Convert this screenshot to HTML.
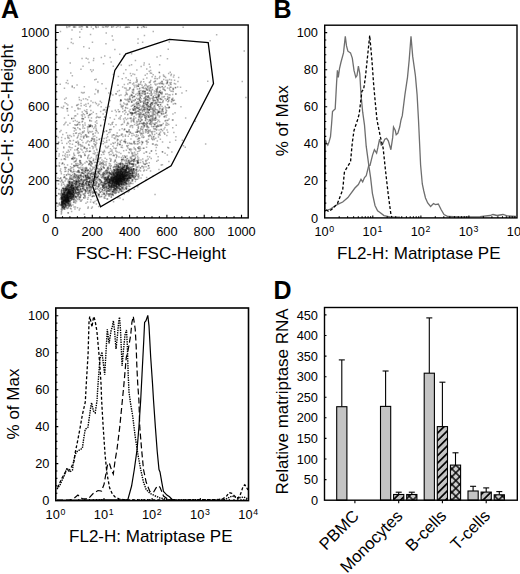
<!DOCTYPE html><html><head><meta charset="utf-8"><style>
html,body{margin:0;padding:0;background:#fff;}svg{display:block;}
text{font-family:"Liberation Sans", sans-serif;fill:#000;}
.t{font-size:12.8px;}.lab{font-size:17px;}.pl{font-size:25px;font-weight:bold;fill:#000;}
</style></head><body>
<svg width="520" height="574" viewBox="0 0 520 574">
<text class="pl" x="1" y="18">A</text>
<text class="pl" x="273.4" y="18">B</text>
<text class="pl" x="0.1" y="298.7">C</text>
<text class="pl" x="273.4" y="298.7">D</text>
<path d="M65.6 193.9h1.5M71.4 183.1h1.5M59.8 198.9h1.5M65.9 186.1h1.5M63.5 189.8h1.5M79.7 189.5h1.5M64.8 196.1h1.5M69.8 186.6h1.5M60.9 200.8h1.5M81.5 184.7h1.5M63.2 199.6h1.5M74.2 186.8h1.5M70.2 191.3h1.5M68.9 202.5h1.5M70.7 195.0h1.5M69.8 193.0h1.5M58.0 194.1h1.5M69.9 196.5h1.5M67.5 205.1h1.5M70.5 192.0h1.5M67.1 189.2h1.5M64.7 197.9h1.5M65.7 186.7h1.5M67.3 189.9h1.5M71.2 188.7h1.5M76.1 196.8h1.5M71.9 192.3h1.5M67.8 184.6h1.5M68.9 194.7h1.5M67.4 191.0h1.5M71.3 189.7h1.5M68.7 197.6h1.5M71.5 185.8h1.5M70.0 187.1h1.5M60.5 211.6h1.5M69.8 192.4h1.5M72.1 188.8h1.5M71.6 182.9h1.5M67.6 191.9h1.5M67.8 182.0h1.5M66.2 194.9h1.5M64.1 207.0h1.5M65.3 189.9h1.5M61.9 201.9h1.5M72.8 191.6h1.5M64.8 205.2h1.5M68.5 192.6h1.5M69.7 194.3h1.5M72.2 188.4h1.5M62.6 205.2h1.5M62.7 190.9h1.5M59.0 202.9h1.5M62.6 182.5h1.5M70.5 191.9h1.5M67.4 193.1h1.5M71.8 185.6h1.5M69.7 192.1h1.5M77.3 185.8h1.5M66.4 196.1h1.5M59.3 199.1h1.5M62.4 198.4h1.5M67.1 196.1h1.5M73.0 188.1h1.5M72.3 190.6h1.5M78.5 185.8h1.5M70.2 182.5h1.5M71.1 193.4h1.5M68.5 202.9h1.5M68.3 197.2h1.5M69.9 195.1h1.5M67.3 198.0h1.5M65.8 201.7h1.5M69.3 196.9h1.5M64.0 196.4h1.5M63.5 203.2h1.5M63.2 200.6h1.5M69.4 197.9h1.5M61.3 199.1h1.5M66.9 197.8h1.5M62.7 207.1h1.5M63.6 197.9h1.5M64.4 190.4h1.5M67.3 200.7h1.5M62.8 194.3h1.5M67.4 197.7h1.5M68.4 193.3h1.5M66.9 199.6h1.5M61.0 203.7h1.5M70.0 204.8h1.5M61.7 205.8h1.5M65.6 193.1h1.5M64.0 199.3h1.5M68.2 194.9h1.5M64.3 201.3h1.5M61.1 202.3h1.5M64.1 196.9h1.5M102.5 172.8h1.5M82.1 184.8h1.5M80.3 175.0h1.5M65.6 175.0h1.5M77.2 170.8h1.5M94.4 173.7h1.5M79.3 164.5h1.5M96.2 183.4h1.5M114.6 161.2h1.5M88.5 173.3h1.5M126.2 156.1h1.5M93.3 174.1h1.5M101.9 174.8h1.5M105.5 178.8h1.5M84.3 175.6h1.5M92.8 159.1h1.5M80.2 189.8h1.5M70.6 183.0h1.5M85.0 170.4h1.5M72.9 169.6h1.5M105.7 178.1h1.5M90.6 180.0h1.5M75.9 181.9h1.5M77.2 181.9h1.5M88.2 184.7h1.5M62.5 196.4h1.5M95.3 181.8h1.5M76.6 187.2h1.5M84.3 174.5h1.5M88.7 178.0h1.5M86.7 201.9h1.5M99.9 171.7h1.5M62.7 190.8h1.5M67.0 188.7h1.5M79.0 183.7h1.5M83.5 189.5h1.5M92.6 174.4h1.5M78.9 183.8h1.5M86.2 179.5h1.5M89.3 189.4h1.5M90.3 186.9h1.5M76.6 172.2h1.5M68.5 181.7h1.5M101.9 164.0h1.5M96.0 182.1h1.5M114.3 164.2h1.5M94.7 178.0h1.5M91.3 163.3h1.5M118.2 156.9h1.5M84.9 176.7h1.5M113.7 177.9h1.5M61.7 200.0h1.5M85.9 181.4h1.5M88.8 173.0h1.5M86.8 185.5h1.5M60.0 177.8h1.5M102.9 160.9h1.5M88.1 186.5h1.5M80.1 195.4h1.5M69.5 186.3h1.5M68.2 184.8h1.5M66.7 185.2h1.5M100.5 174.8h1.5M63.9 167.6h1.5M81.0 186.1h1.5M87.1 170.0h1.5M76.4 177.6h1.5M73.1 183.6h1.5M73.1 165.8h1.5M100.0 171.3h1.5M80.0 189.6h1.5M79.4 197.3h1.5M124.2 180.6h1.5M69.1 192.0h1.5M77.1 192.5h1.5M83.6 214.2h1.5M92.5 202.3h1.5M94.4 184.7h1.5M81.0 169.5h1.5M102.1 161.9h1.5M77.9 181.4h1.5M80.5 201.0h1.5M95.2 178.9h1.5M86.2 113.6h1.5M77.0 136.9h1.5M73.9 116.0h1.5M95.3 128.3h1.5M104.1 116.7h1.5M102.9 177.5h1.5M71.7 144.2h1.5M85.6 161.5h1.5M103.6 150.5h1.5M100.6 163.3h1.5M86.1 151.0h1.5M105.3 88.5h1.5M83.8 154.1h1.5M92.7 168.0h1.5M73.1 118.3h1.5M76.8 124.7h1.5M74.2 128.4h1.5M88.4 126.9h1.5M80.5 100.6h1.5M106.9 136.7h1.5M75.2 129.9h1.5M83.0 138.0h1.5M86.5 151.0h1.5M70.9 178.9h1.5M58.7 166.2h1.5M77.4 171.9h1.5M73.5 87.8h1.5M84.2 162.9h1.5M97.3 117.2h1.5M88.2 155.1h1.5M71.4 188.3h1.5M74.2 110.7h1.5M108.8 154.7h1.5M96.3 116.5h1.5M68.4 138.2h1.5M62.0 163.3h1.5M87.0 128.9h1.5M78.8 152.2h1.5M96.2 123.2h1.5M88.9 131.6h1.5M79.2 108.8h1.5M88.3 164.8h1.5M130.7 174.9h1.5M108.3 173.6h1.5M117.8 179.5h1.5M135.5 170.6h1.5M105.6 177.8h1.5M114.7 159.9h1.5M115.5 185.9h1.5M94.9 189.3h1.5M119.1 170.0h1.5M127.0 179.3h1.5M109.2 186.8h1.5M123.3 175.2h1.5M131.4 175.3h1.5M110.5 188.4h1.5M129.2 178.5h1.5M115.8 179.8h1.5M112.4 185.4h1.5M124.7 172.1h1.5M121.1 179.9h1.5M130.6 175.3h1.5M110.8 176.9h1.5M119.4 168.2h1.5M111.3 191.8h1.5M112.9 174.5h1.5M132.8 166.1h1.5M112.5 167.6h1.5M116.9 187.1h1.5M115.8 181.3h1.5M104.6 183.4h1.5M115.4 176.4h1.5M117.2 172.3h1.5M116.0 185.2h1.5M114.0 171.1h1.5M127.2 165.7h1.5M112.9 182.5h1.5M112.3 181.4h1.5M105.8 178.0h1.5M144.5 164.2h1.5M116.5 176.1h1.5M121.4 178.9h1.5M129.9 167.1h1.5M121.7 163.6h1.5M115.0 186.0h1.5M112.8 179.9h1.5M108.5 186.0h1.5M121.2 174.3h1.5M126.5 179.5h1.5M112.7 189.5h1.5M116.5 169.9h1.5M112.9 173.5h1.5M120.8 171.3h1.5M131.6 166.4h1.5M122.8 187.8h1.5M131.5 160.8h1.5M124.4 175.6h1.5M131.6 172.7h1.5M120.6 167.4h1.5M114.2 175.3h1.5M121.5 182.4h1.5M142.7 167.9h1.5M102.8 184.6h1.5M126.8 158.5h1.5M112.1 193.9h1.5M127.2 167.9h1.5M102.2 186.4h1.5M119.8 174.1h1.5M121.3 175.5h1.5M114.4 190.2h1.5M133.5 173.2h1.5M115.8 188.7h1.5M148.5 162.8h1.5M133.1 176.3h1.5M123.8 170.9h1.5M122.7 165.6h1.5M118.4 190.8h1.5M126.8 176.3h1.5M137.2 176.1h1.5M116.5 184.3h1.5M104.1 183.3h1.5M119.2 175.1h1.5M123.8 182.8h1.5M132.9 159.7h1.5M123.4 177.5h1.5M104.0 185.3h1.5M109.8 176.2h1.5M119.4 169.7h1.5M122.4 183.6h1.5M119.9 173.0h1.5M118.7 177.0h1.5M118.2 170.7h1.5M125.7 172.2h1.5M132.1 177.5h1.5M115.0 179.9h1.5M120.8 180.0h1.5M118.8 177.9h1.5M107.5 177.8h1.5M119.4 176.3h1.5M119.5 167.2h1.5M129.6 157.2h1.5M132.2 176.4h1.5M116.9 179.9h1.5M119.7 179.0h1.5M113.1 177.1h1.5M122.4 179.6h1.5M128.4 169.5h1.5M115.8 183.4h1.5M114.9 177.7h1.5M118.9 168.1h1.5M124.2 179.0h1.5M112.2 186.8h1.5M116.5 180.4h1.5M118.1 177.6h1.5M110.5 174.0h1.5M124.0 165.9h1.5M114.9 172.5h1.5M125.1 176.4h1.5M108.1 194.9h1.5M117.7 175.9h1.5M120.1 181.6h1.5M119.5 178.6h1.5M120.3 181.4h1.5M136.9 186.8h1.5M128.9 177.5h1.5M115.6 181.7h1.5M137.3 162.2h1.5M117.3 180.8h1.5M125.7 168.4h1.5M114.0 176.3h1.5M120.2 184.5h1.5M113.3 171.6h1.5M132.9 168.7h1.5M120.9 173.7h1.5M111.6 185.9h1.5M127.7 172.2h1.5M104.7 181.2h1.5M122.0 172.4h1.5M114.0 176.6h1.5M122.7 179.6h1.5M105.6 169.6h1.5M118.2 184.5h1.5M128.3 166.2h1.5M120.4 176.3h1.5M123.2 175.9h1.5M104.2 177.3h1.5M121.0 179.8h1.5M127.5 178.4h1.5M114.8 170.7h1.5M118.3 175.0h1.5M111.4 184.6h1.5M114.4 174.8h1.5M121.2 183.0h1.5M119.3 177.8h1.5M121.0 176.4h1.5M117.2 177.6h1.5M122.7 177.5h1.5M121.3 174.2h1.5M115.8 182.1h1.5M119.5 176.1h1.5M111.9 182.0h1.5M116.2 173.9h1.5M116.8 182.9h1.5M115.7 177.7h1.5M125.0 176.6h1.5M113.4 178.8h1.5M118.0 179.7h1.5M113.7 179.5h1.5M113.5 174.4h1.5M126.6 172.0h1.5M116.6 173.3h1.5M123.2 178.1h1.5M117.4 179.4h1.5M110.9 172.3h1.5M112.4 179.9h1.5M115.3 173.1h1.5M113.9 179.9h1.5M118.1 169.6h1.5M111.6 183.7h1.5M120.1 178.6h1.5M118.2 179.3h1.5M113.9 178.7h1.5M120.0 176.7h1.5M116.4 183.5h1.5M121.3 175.4h1.5M115.2 179.9h1.5M122.1 173.3h1.5M117.8 178.8h1.5M119.6 175.1h1.5M114.8 178.6h1.5M116.2 182.7h1.5M121.6 182.0h1.5M120.9 176.5h1.5M119.5 178.7h1.5M120.8 183.0h1.5M116.9 182.4h1.5M108.5 182.3h1.5M91.4 173.2h1.5M136.2 136.6h1.5M120.8 140.3h1.5M116.5 145.5h1.5M113.5 155.7h1.5M128.6 149.3h1.5M115.4 147.9h1.5M100.0 157.7h1.5M132.3 156.1h1.5M116.0 156.4h1.5M137.7 126.7h1.5M116.5 136.0h1.5M141.1 166.4h1.5M103.1 154.2h1.5M137.9 137.9h1.5M128.8 143.1h1.5M136.8 139.2h1.5M111.3 122.9h1.5M136.8 153.8h1.5M109.1 158.5h1.5M108.5 139.9h1.5M140.5 114.8h1.5M109.8 173.1h1.5M151.1 138.9h1.5M139.9 167.9h1.5M130.8 149.2h1.5M160.5 165.1h1.5M148.5 119.8h1.5M154.8 109.3h1.5M123.9 88.1h1.5M122.2 106.4h1.5M144.7 100.4h1.5M129.7 73.4h1.5M139.9 133.6h1.5M136.1 108.0h1.5M157.3 100.3h1.5M132.5 121.3h1.5M173.1 132.5h1.5M152.9 123.5h1.5M124.5 117.9h1.5M130.7 143.4h1.5M137.7 111.1h1.5M143.3 109.6h1.5M159.9 104.7h1.5M132.5 113.6h1.5M149.7 104.8h1.5M161.6 108.8h1.5M128.5 134.2h1.5M155.8 133.2h1.5M140.5 113.2h1.5M137.5 86.3h1.5M154.9 100.6h1.5M137.7 107.9h1.5M130.5 121.7h1.5M126.4 103.6h1.5M140.6 120.3h1.5M127.1 122.6h1.5M147.6 106.7h1.5M147.8 89.1h1.5M121.9 86.9h1.5M146.4 90.0h1.5M143.8 125.8h1.5M138.1 105.4h1.5M164.9 108.1h1.5M125.3 77.7h1.5M160.2 111.3h1.5M150.5 115.7h1.5M135.8 86.8h1.5M120.5 106.8h1.5M143.5 115.5h1.5M141.2 120.0h1.5M125.7 90.0h1.5M151.4 94.0h1.5M142.9 123.2h1.5M163.0 113.7h1.5M136.6 111.2h1.5M157.7 134.7h1.5M138.6 98.9h1.5M151.4 115.6h1.5M142.3 106.7h1.5M139.1 100.1h1.5M138.2 151.2h1.5M148.7 109.8h1.5M119.7 101.5h1.5M133.7 96.8h1.5M145.8 147.2h1.5M142.4 123.6h1.5M130.3 95.8h1.5M167.9 100.9h1.5M140.4 81.5h1.5M146.6 102.7h1.5M120.1 99.7h1.5M153.1 114.7h1.5M128.4 129.8h1.5M140.1 118.7h1.5M135.2 108.8h1.5M135.4 85.3h1.5M120.5 105.6h1.5M129.3 88.1h1.5M154.9 97.5h1.5M160.8 129.6h1.5M165.5 100.6h1.5M145.4 112.5h1.5M146.6 119.4h1.5M140.0 102.0h1.5M138.5 91.0h1.5M148.7 117.6h1.5M142.9 98.6h1.5M164.9 120.4h1.5M137.7 119.6h1.5M152.9 119.9h1.5M177.2 81.4h1.5M149.3 90.8h1.5M156.4 90.1h1.5M158.1 83.5h1.5M158.7 72.7h1.5M170.3 91.3h1.5M173.6 83.4h1.5M170.3 84.6h1.5M146.4 73.8h1.5M156.6 78.8h1.5M172.3 88.2h1.5M165.3 80.2h1.5M161.1 93.3h1.5M150.0 88.1h1.5M145.5 85.0h1.5M72.3 43.4h1.5M168.5 42.1h1.5M58.5 154.0h1.5M153.8 111.7h1.5M133.3 85.2h1.5M91.4 196.6h1.5M164.3 153.2h1.5M137.3 39.1h1.5M108.0 124.1h1.5M143.3 153.3h1.5M67.7 207.9h1.5M85.1 98.8h1.5M79.0 37.2h1.5M115.9 164.5h1.5M245.1 97.5h1.5M95.2 171.5h1.5M181.6 140.2h1.5M140.9 27.5h1.5M105.6 26.6h1.5M127.7 27.0h1.5M66.2 27.5h1.5M106.5 26.9h1.5" stroke="#000" stroke-width="1.5" stroke-opacity="0.3" fill="none"/><path d="M75.6 187.4h1.5M71.0 198.2h1.5M67.1 197.2h1.5M64.7 191.4h1.5M76.3 192.7h1.5M72.0 190.7h1.5M76.5 194.9h1.5M68.3 184.2h1.5M62.9 189.1h1.5M73.9 194.1h1.5M62.9 200.3h1.5M61.3 205.1h1.5M61.0 198.3h1.5M72.6 188.2h1.5M65.4 189.8h1.5M65.8 188.6h1.5M72.5 192.8h1.5M66.2 202.3h1.5M66.0 207.8h1.5M67.5 204.0h1.5M67.3 196.3h1.5M67.6 180.0h1.5M64.8 201.7h1.5M66.6 188.2h1.5M67.5 200.5h1.5M64.8 197.7h1.5M72.2 196.6h1.5M68.8 193.4h1.5M62.0 202.7h1.5M60.9 191.9h1.5M77.1 199.6h1.5M76.5 182.6h1.5M67.0 193.2h1.5M68.1 191.6h1.5M69.4 191.1h1.5M67.9 196.6h1.5M72.8 194.7h1.5M69.4 187.3h1.5M58.7 203.3h1.5M78.9 185.0h1.5M63.5 196.2h1.5M61.7 195.3h1.5M77.5 179.0h1.5M70.4 187.8h1.5M61.0 197.0h1.5M62.5 201.9h1.5M68.2 198.3h1.5M69.1 190.7h1.5M66.5 195.0h1.5M64.3 198.6h1.5M65.1 197.4h1.5M74.2 183.5h1.5M67.9 190.2h1.5M67.4 181.4h1.5M64.0 191.9h1.5M70.9 197.5h1.5M69.1 196.5h1.5M75.2 177.2h1.5M59.3 204.8h1.5M72.2 197.1h1.5M68.3 198.6h1.5M71.1 193.8h1.5M64.5 195.3h1.5M66.4 199.7h1.5M65.9 199.6h1.5M68.2 187.7h1.5M64.1 197.0h1.5M62.4 200.0h1.5M64.9 202.0h1.5M62.9 201.3h1.5M64.6 197.1h1.5M61.2 195.9h1.5M66.3 196.3h1.5M64.3 204.9h1.5M63.7 199.8h1.5M65.2 200.5h1.5M64.4 200.7h1.5M68.3 193.0h1.5M64.6 199.7h1.5M61.4 197.5h1.5M67.3 200.4h1.5M70.0 200.5h1.5M69.4 194.5h1.5M66.2 200.0h1.5M66.0 197.3h1.5M68.0 202.6h1.5M66.4 201.7h1.5M62.2 198.3h1.5M61.5 204.2h1.5M68.4 193.2h1.5M71.5 196.1h1.5M68.3 199.6h1.5M100.0 188.9h1.5M84.3 190.5h1.5M93.5 191.5h1.5M81.7 184.0h1.5M79.7 191.6h1.5M65.0 198.4h1.5M94.7 177.4h1.5M77.8 178.5h1.5M88.7 178.1h1.5M86.7 170.7h1.5M86.5 176.8h1.5M90.5 170.5h1.5M60.8 193.8h1.5M87.0 199.3h1.5M74.9 182.3h1.5M74.4 166.0h1.5M76.8 207.8h1.5M71.6 179.2h1.5M94.9 187.4h1.5M75.2 192.1h1.5M87.2 208.3h1.5M110.3 159.3h1.5M67.4 181.8h1.5M94.8 162.2h1.5M117.6 170.0h1.5M63.1 184.3h1.5M85.1 168.3h1.5M102.3 173.3h1.5M89.3 185.9h1.5M103.4 175.7h1.5M115.1 177.2h1.5M93.8 167.5h1.5M70.3 175.7h1.5M78.1 191.7h1.5M90.7 185.2h1.5M88.2 185.0h1.5M69.3 179.3h1.5M99.3 174.3h1.5M109.1 172.7h1.5M76.0 181.0h1.5M100.2 175.8h1.5M97.4 161.3h1.5M119.6 162.8h1.5M87.0 178.1h1.5M79.1 183.5h1.5M94.7 179.5h1.5M63.4 174.7h1.5M86.0 179.2h1.5M76.0 196.6h1.5M85.5 178.5h1.5M99.2 197.1h1.5M83.2 195.0h1.5M72.3 177.0h1.5M69.3 176.4h1.5M77.8 171.1h1.5M92.5 181.6h1.5M91.6 196.6h1.5M71.5 172.4h1.5M105.8 161.7h1.5M65.6 188.4h1.5M88.3 160.5h1.5M90.3 173.9h1.5M109.5 168.3h1.5M97.0 165.9h1.5M88.3 184.4h1.5M103.6 192.9h1.5M108.8 189.8h1.5M106.8 190.0h1.5M77.7 178.7h1.5M87.0 187.5h1.5M85.5 180.1h1.5M100.2 181.8h1.5M86.4 171.7h1.5M92.2 193.4h1.5M91.4 164.0h1.5M68.8 205.7h1.5M73.5 175.8h1.5M95.8 192.3h1.5M108.9 173.4h1.5M96.0 177.6h1.5M79.1 160.5h1.5M75.6 193.3h1.5M104.7 179.2h1.5M108.6 165.5h1.5M93.4 196.2h1.5M82.2 171.8h1.5M85.4 182.9h1.5M81.2 180.4h1.5M82.9 197.4h1.5M67.0 193.3h1.5M77.0 148.6h1.5M66.7 111.0h1.5M94.3 144.6h1.5M89.5 126.3h1.5M98.2 104.3h1.5M81.9 131.8h1.5M62.2 107.9h1.5M75.0 161.2h1.5M74.4 177.1h1.5M95.1 89.5h1.5M57.2 178.0h1.5M89.2 174.4h1.5M82.0 146.3h1.5M99.9 111.6h1.5M90.7 140.7h1.5M66.6 155.1h1.5M98.8 157.9h1.5M73.5 173.4h1.5M69.8 149.7h1.5M70.0 168.8h1.5M64.7 159.6h1.5M67.8 141.9h1.5M72.4 171.9h1.5M109.4 117.7h1.5M79.5 129.5h1.5M98.0 159.5h1.5M124.2 99.2h1.5M76.4 163.4h1.5M86.2 136.6h1.5M82.6 113.8h1.5M80.3 136.7h1.5M82.8 137.5h1.5M81.4 145.5h1.5M78.0 133.7h1.5M82.6 119.1h1.5M81.7 116.6h1.5M88.6 115.1h1.5M105.9 142.3h1.5M60.9 137.4h1.5M93.9 154.1h1.5M79.7 162.2h1.5M98.4 139.6h1.5M89.8 105.5h1.5M113.5 186.2h1.5M122.5 184.2h1.5M112.4 186.9h1.5M113.4 174.0h1.5M122.8 180.9h1.5M108.1 191.2h1.5M119.4 171.6h1.5M118.1 185.0h1.5M110.7 182.5h1.5M120.9 177.9h1.5M119.7 183.6h1.5M118.7 171.6h1.5M102.3 192.5h1.5M126.2 179.2h1.5M106.2 183.0h1.5M128.0 167.9h1.5M110.7 180.3h1.5M127.6 180.3h1.5M121.7 173.9h1.5M131.2 176.2h1.5M103.4 198.1h1.5M104.6 184.5h1.5M110.4 189.9h1.5M121.9 173.5h1.5M108.0 184.0h1.5M123.5 178.9h1.5M124.4 176.2h1.5M122.9 176.7h1.5M115.0 178.2h1.5M109.2 193.8h1.5M119.3 181.9h1.5M131.7 180.8h1.5M110.3 174.1h1.5M122.5 186.3h1.5M146.2 160.3h1.5M116.0 179.0h1.5M129.5 173.8h1.5M115.8 174.8h1.5M115.4 187.0h1.5M112.1 177.7h1.5M108.6 172.4h1.5M112.1 182.5h1.5M122.9 178.2h1.5M118.6 164.1h1.5M109.2 191.4h1.5M127.1 179.6h1.5M125.5 182.4h1.5M115.9 184.1h1.5M106.0 179.8h1.5M127.7 169.6h1.5M121.7 184.0h1.5M134.5 158.6h1.5M119.6 178.0h1.5M110.4 187.9h1.5M114.3 179.5h1.5M114.2 175.9h1.5M118.5 176.0h1.5M121.6 169.2h1.5M115.0 182.6h1.5M110.6 185.7h1.5M117.7 176.8h1.5M129.0 178.7h1.5M101.6 189.9h1.5M121.1 168.7h1.5M121.0 183.6h1.5M124.6 171.9h1.5M118.3 172.3h1.5M128.4 161.5h1.5M123.0 167.1h1.5M119.6 172.1h1.5M116.3 180.3h1.5M117.7 184.5h1.5M122.5 173.9h1.5M122.6 157.7h1.5M116.0 176.3h1.5M124.7 168.3h1.5M130.5 169.8h1.5M116.0 174.4h1.5M116.5 181.6h1.5M119.3 182.0h1.5M122.5 174.2h1.5M124.5 181.4h1.5M128.8 176.5h1.5M115.6 170.0h1.5M105.1 186.7h1.5M132.7 168.9h1.5M115.6 181.4h1.5M105.1 179.9h1.5M122.3 167.3h1.5M118.2 175.7h1.5M117.1 165.0h1.5M125.2 170.2h1.5M136.4 160.7h1.5M121.0 177.3h1.5M132.6 175.7h1.5M106.1 189.2h1.5M119.4 189.1h1.5M126.2 165.6h1.5M111.4 184.3h1.5M117.1 177.2h1.5M110.7 185.0h1.5M113.5 179.2h1.5M128.9 175.9h1.5M104.7 178.0h1.5M114.9 172.6h1.5M115.9 187.6h1.5M122.1 172.4h1.5M108.8 176.1h1.5M112.6 187.5h1.5M126.3 184.0h1.5M112.0 181.9h1.5M130.2 161.5h1.5M122.8 181.9h1.5M128.9 176.8h1.5M108.2 185.2h1.5M112.8 177.8h1.5M115.6 178.8h1.5M120.0 164.2h1.5M103.6 182.9h1.5M113.3 185.1h1.5M134.7 165.7h1.5M122.1 173.4h1.5M117.4 174.2h1.5M113.6 174.8h1.5M107.5 188.7h1.5M115.8 177.6h1.5M121.5 188.9h1.5M128.0 186.0h1.5M126.9 178.7h1.5M118.2 183.2h1.5M115.1 186.5h1.5M127.2 167.3h1.5M121.7 178.9h1.5M121.0 182.2h1.5M128.5 191.1h1.5M115.7 180.6h1.5M106.6 173.0h1.5M114.6 182.1h1.5M135.2 164.7h1.5M110.6 195.1h1.5M110.6 178.7h1.5M124.2 172.7h1.5M113.7 182.6h1.5M122.2 171.7h1.5M122.1 168.7h1.5M126.9 184.8h1.5M112.1 177.9h1.5M112.9 169.8h1.5M113.4 182.3h1.5M115.2 184.0h1.5M118.1 179.2h1.5M115.4 180.4h1.5M117.8 178.0h1.5M118.0 171.4h1.5M123.7 171.3h1.5M120.9 173.3h1.5M125.2 175.0h1.5M116.3 180.4h1.5M111.0 183.0h1.5M112.7 181.8h1.5M111.8 182.2h1.5M118.5 178.6h1.5M116.1 180.0h1.5M111.0 181.3h1.5M111.3 176.3h1.5M111.7 179.1h1.5M122.1 173.1h1.5M124.6 172.6h1.5M117.9 181.1h1.5M117.8 176.1h1.5M119.3 178.9h1.5M125.7 177.0h1.5M116.1 175.8h1.5M122.2 173.9h1.5M112.0 180.7h1.5M117.1 176.4h1.5M124.2 176.0h1.5M121.9 177.0h1.5M118.4 186.3h1.5M109.5 181.7h1.5M114.1 171.1h1.5M114.6 179.1h1.5M120.6 171.2h1.5M116.6 177.1h1.5M125.8 178.4h1.5M116.1 181.4h1.5M117.5 178.8h1.5M119.9 172.4h1.5M122.0 182.9h1.5M114.0 176.9h1.5M119.5 180.6h1.5M121.6 178.3h1.5M121.1 180.8h1.5M114.2 181.4h1.5M120.6 181.9h1.5M108.5 179.4h1.5M128.1 160.0h1.5M119.4 144.7h1.5M133.6 149.1h1.5M126.6 123.6h1.5M118.7 135.8h1.5M110.4 154.4h1.5M107.2 168.3h1.5M127.2 148.1h1.5M122.2 136.6h1.5M95.5 158.0h1.5M131.8 160.3h1.5M156.0 161.2h1.5M114.3 138.8h1.5M113.0 143.6h1.5M105.9 130.9h1.5M123.1 159.5h1.5M120.1 153.6h1.5M146.2 143.9h1.5M131.3 159.3h1.5M102.3 152.6h1.5M125.6 150.3h1.5M125.5 176.1h1.5M122.0 111.8h1.5M123.5 122.5h1.5M128.0 162.4h1.5M165.0 124.9h1.5M155.3 109.8h1.5M129.4 80.6h1.5M150.8 90.2h1.5M136.5 129.8h1.5M146.7 126.3h1.5M148.0 127.6h1.5M155.5 125.9h1.5M133.8 86.9h1.5M166.6 104.5h1.5M159.6 92.8h1.5M145.0 118.7h1.5M127.5 79.8h1.5M140.7 117.0h1.5M125.7 119.4h1.5M152.4 116.1h1.5M137.8 91.7h1.5M148.5 113.0h1.5M134.3 112.8h1.5M155.6 147.6h1.5M149.0 135.0h1.5M134.5 148.8h1.5M130.5 94.4h1.5M161.1 99.3h1.5M138.4 117.8h1.5M143.7 125.8h1.5M119.7 142.6h1.5M123.0 56.1h1.5M151.4 123.0h1.5M147.9 105.6h1.5M132.0 92.7h1.5M153.3 109.9h1.5M139.1 105.1h1.5M134.7 110.0h1.5M156.0 98.7h1.5M144.1 116.0h1.5M154.6 129.1h1.5M160.8 113.5h1.5M133.0 141.4h1.5M146.9 96.9h1.5M129.7 82.8h1.5M150.3 95.2h1.5M126.6 94.6h1.5M118.1 111.7h1.5M138.4 93.3h1.5M141.3 85.3h1.5M141.2 96.1h1.5M142.8 102.7h1.5M151.3 133.2h1.5M148.9 101.1h1.5M166.7 123.4h1.5M149.6 107.1h1.5M168.3 118.9h1.5M155.7 90.3h1.5M157.7 137.0h1.5M141.2 119.7h1.5M130.4 118.0h1.5M137.9 103.4h1.5M152.0 120.0h1.5M137.6 84.2h1.5M124.7 136.3h1.5M136.2 80.4h1.5M152.1 108.8h1.5M133.6 110.2h1.5M141.8 93.3h1.5M133.3 101.1h1.5M125.7 104.7h1.5M151.4 76.8h1.5M133.3 100.7h1.5M137.4 127.8h1.5M153.0 100.3h1.5M161.6 151.8h1.5M127.2 114.0h1.5M141.4 129.5h1.5M116.6 139.2h1.5M154.4 118.6h1.5M165.4 116.9h1.5M134.2 106.2h1.5M125.3 88.3h1.5M165.5 123.1h1.5M124.4 95.5h1.5M138.0 138.7h1.5M141.4 133.9h1.5M131.8 113.3h1.5M138.1 146.8h1.5M181.2 92.9h1.5M172.7 88.9h1.5M172.1 98.3h1.5M158.6 77.9h1.5M156.8 88.7h1.5M151.0 103.2h1.5M166.2 107.8h1.5M185.6 90.7h1.5M166.7 82.3h1.5M157.5 96.2h1.5M169.2 82.8h1.5M161.2 92.0h1.5M162.5 100.5h1.5M164.5 86.5h1.5M179.8 87.2h1.5M100.6 57.6h1.5M94.0 79.8h1.5M104.0 56.1h1.5M91.7 42.2h1.5M155.9 129.2h1.5M91.6 206.9h1.5M129.9 113.1h1.5M159.1 76.5h1.5M167.5 49.3h1.5M80.8 92.5h1.5M73.2 202.4h1.5M83.6 86.7h1.5M81.4 118.6h1.5M67.6 115.2h1.5M158.5 72.2h1.5M97.2 105.5h1.5M85.5 58.2h1.5M144.9 160.5h1.5M129.5 149.1h1.5M109.4 57.6h1.5M126.1 27.2h1.5M174.9 140.3h1.5M142.5 26.5h1.5M143.8 27.3h1.5M78.5 27.1h1.5M136.9 27.4h1.5M73.7 27.0h1.5" stroke="#000" stroke-width="1.5" stroke-opacity="0.3" fill="none"/><path d="M72.3 186.7h1.5M70.4 190.7h1.5M70.2 193.2h1.5M61.9 198.9h1.5M75.1 189.5h1.5M72.6 192.4h1.5M67.6 199.4h1.5M67.8 197.1h1.5M62.4 204.0h1.5M65.6 199.5h1.5M67.8 192.6h1.5M78.5 182.1h1.5M73.0 200.9h1.5M66.1 187.2h1.5M77.3 195.6h1.5M73.6 193.6h1.5M70.5 189.5h1.5M64.2 205.7h1.5M75.1 187.5h1.5M72.5 195.4h1.5M69.4 189.0h1.5M71.0 196.5h1.5M63.6 193.3h1.5M60.6 204.9h1.5M70.0 187.1h1.5M73.0 184.2h1.5M67.3 212.7h1.5M73.3 195.9h1.5M64.4 199.7h1.5M61.6 188.2h1.5M79.6 187.1h1.5M60.6 198.3h1.5M77.2 192.2h1.5M65.3 194.7h1.5M71.6 194.2h1.5M64.1 193.1h1.5M69.3 193.4h1.5M67.1 200.3h1.5M70.1 192.7h1.5M67.6 190.3h1.5M72.6 186.5h1.5M72.1 196.4h1.5M70.0 203.0h1.5M69.8 188.0h1.5M65.0 196.7h1.5M64.9 187.1h1.5M71.9 189.2h1.5M57.9 193.6h1.5M68.2 198.6h1.5M64.0 194.3h1.5M70.7 185.4h1.5M66.0 189.9h1.5M67.4 193.9h1.5M72.2 194.8h1.5M67.2 203.0h1.5M62.8 193.9h1.5M68.9 190.9h1.5M75.2 197.6h1.5M61.4 201.7h1.5M67.3 197.1h1.5M67.5 191.9h1.5M65.2 190.3h1.5M66.7 184.3h1.5M64.1 197.3h1.5M68.0 206.1h1.5M66.0 193.1h1.5M81.4 184.4h1.5M61.1 197.1h1.5M71.4 193.3h1.5M66.3 197.5h1.5M66.4 198.0h1.5M62.3 201.8h1.5M64.7 198.1h1.5M61.3 199.2h1.5M62.1 202.9h1.5M65.1 198.2h1.5M63.2 198.0h1.5M66.7 201.4h1.5M67.9 197.6h1.5M70.1 194.6h1.5M65.2 201.1h1.5M65.5 198.2h1.5M63.2 208.4h1.5M68.4 201.6h1.5M60.0 197.5h1.5M62.6 195.1h1.5M63.0 197.6h1.5M64.3 202.9h1.5M66.9 198.7h1.5M71.0 199.3h1.5M68.3 194.5h1.5M64.3 196.0h1.5M62.2 197.3h1.5M67.7 194.5h1.5M65.0 196.1h1.5M66.4 205.7h1.5M66.1 198.9h1.5M64.7 194.3h1.5M74.2 196.0h1.5M58.8 178.7h1.5M72.4 190.2h1.5M66.4 194.4h1.5M98.9 170.6h1.5M87.9 178.5h1.5M101.2 169.5h1.5M78.2 182.4h1.5M74.2 171.4h1.5M76.7 176.2h1.5M82.7 180.2h1.5M100.8 185.0h1.5M107.7 175.5h1.5M89.4 190.8h1.5M82.2 183.6h1.5M69.3 174.6h1.5M99.2 179.8h1.5M91.5 181.2h1.5M95.5 183.9h1.5M79.8 175.5h1.5M78.9 182.5h1.5M77.0 189.1h1.5M63.8 190.4h1.5M119.6 177.0h1.5M75.5 189.6h1.5M90.4 190.4h1.5M70.1 170.9h1.5M68.3 182.6h1.5M68.2 183.0h1.5M80.9 172.6h1.5M73.3 207.0h1.5M81.4 192.1h1.5M115.8 162.4h1.5M58.7 162.9h1.5M63.2 158.9h1.5M94.5 185.3h1.5M93.4 192.6h1.5M83.5 185.4h1.5M58.4 189.6h1.5M110.4 178.1h1.5M71.0 199.5h1.5M82.7 190.5h1.5M89.8 201.9h1.5M73.6 176.1h1.5M111.8 181.0h1.5M88.6 188.3h1.5M73.0 180.9h1.5M90.5 166.3h1.5M76.9 190.2h1.5M93.7 182.7h1.5M62.1 206.4h1.5M90.7 157.4h1.5M88.2 181.8h1.5M77.4 187.1h1.5M79.1 190.5h1.5M122.1 172.9h1.5M90.2 184.0h1.5M79.6 175.5h1.5M88.4 185.5h1.5M79.5 183.5h1.5M97.3 189.2h1.5M78.5 193.8h1.5M136.5 162.0h1.5M86.1 188.4h1.5M82.8 182.4h1.5M89.0 188.5h1.5M84.7 170.1h1.5M86.9 183.2h1.5M72.0 184.6h1.5M63.0 188.7h1.5M82.2 188.8h1.5M86.0 191.6h1.5M78.3 175.2h1.5M95.7 186.2h1.5M83.9 180.2h1.5M64.5 199.8h1.5M74.1 181.2h1.5M77.4 177.1h1.5M80.5 179.7h1.5M100.3 191.6h1.5M85.0 179.3h1.5M92.9 188.5h1.5M83.6 169.1h1.5M83.0 177.5h1.5M91.2 191.9h1.5M71.2 107.1h1.5M72.6 127.7h1.5M93.7 138.8h1.5M75.3 142.3h1.5M82.7 118.8h1.5M87.9 144.6h1.5M69.4 147.6h1.5M75.2 125.2h1.5M71.6 158.6h1.5M87.5 156.0h1.5M86.5 141.8h1.5M80.2 156.8h1.5M80.0 163.0h1.5M76.8 113.9h1.5M83.9 136.2h1.5M62.0 155.5h1.5M80.1 182.3h1.5M92.2 139.6h1.5M96.2 177.6h1.5M75.7 164.9h1.5M104.7 146.2h1.5M87.0 157.6h1.5M66.8 152.2h1.5M109.8 94.4h1.5M62.0 134.6h1.5M65.9 152.2h1.5M67.0 157.1h1.5M68.4 151.8h1.5M89.1 106.7h1.5M112.1 152.9h1.5M90.7 121.0h1.5M94.9 159.6h1.5M87.3 141.0h1.5M95.7 113.7h1.5M65.2 179.5h1.5M88.4 151.6h1.5M85.0 111.6h1.5M58.2 156.1h1.5M86.0 137.2h1.5M60.7 107.5h1.5M74.9 133.3h1.5M86.8 141.2h1.5M90.4 161.9h1.5M70.0 193.6h1.5M112.1 187.6h1.5M111.4 194.6h1.5M120.5 181.1h1.5M112.9 179.2h1.5M112.3 191.5h1.5M126.0 169.0h1.5M110.5 189.8h1.5M132.1 175.7h1.5M115.0 183.0h1.5M106.7 186.4h1.5M114.0 179.4h1.5M115.3 181.9h1.5M107.8 182.3h1.5M115.8 187.2h1.5M117.2 197.7h1.5M130.2 183.3h1.5M120.1 180.2h1.5M112.1 174.5h1.5M135.4 169.4h1.5M126.3 172.7h1.5M116.2 182.4h1.5M120.0 186.0h1.5M113.2 177.3h1.5M131.3 169.0h1.5M118.4 178.7h1.5M116.0 171.5h1.5M124.6 165.0h1.5M120.8 172.4h1.5M123.9 178.5h1.5M133.3 177.5h1.5M116.5 179.0h1.5M129.8 173.8h1.5M127.3 171.4h1.5M117.2 183.9h1.5M115.0 176.4h1.5M117.9 174.2h1.5M113.1 178.4h1.5M124.1 181.6h1.5M115.2 177.0h1.5M114.6 166.9h1.5M112.8 187.7h1.5M124.7 163.3h1.5M109.3 187.3h1.5M112.3 190.1h1.5M121.0 184.1h1.5M127.8 171.9h1.5M135.5 172.4h1.5M134.2 164.3h1.5M123.7 167.2h1.5M122.5 175.2h1.5M125.6 186.8h1.5M127.0 179.6h1.5M112.4 181.1h1.5M113.2 178.3h1.5M114.5 181.3h1.5M123.5 177.7h1.5M103.6 196.7h1.5M118.8 178.2h1.5M125.6 187.4h1.5M107.4 176.4h1.5M106.1 180.5h1.5M135.7 173.1h1.5M131.5 170.4h1.5M129.3 163.9h1.5M129.0 186.3h1.5M118.3 178.0h1.5M107.0 178.2h1.5M124.7 173.9h1.5M128.0 173.0h1.5M118.3 178.1h1.5M116.8 179.0h1.5M120.5 180.8h1.5M123.4 179.9h1.5M133.3 159.9h1.5M108.8 180.3h1.5M133.8 175.3h1.5M139.8 162.6h1.5M134.3 176.6h1.5M106.6 174.7h1.5M122.9 167.3h1.5M105.1 183.8h1.5M119.2 178.2h1.5M120.5 177.7h1.5M111.2 170.6h1.5M104.1 184.2h1.5M135.7 175.6h1.5M123.2 179.7h1.5M115.9 166.0h1.5M118.4 179.7h1.5M123.5 176.3h1.5M124.0 174.3h1.5M122.0 177.9h1.5M113.5 177.4h1.5M108.2 175.8h1.5M124.8 178.7h1.5M124.2 182.4h1.5M122.3 167.0h1.5M101.4 194.5h1.5M112.9 180.3h1.5M113.9 183.9h1.5M122.0 173.5h1.5M122.8 177.4h1.5M133.9 177.6h1.5M104.3 183.2h1.5M118.1 174.2h1.5M134.6 181.4h1.5M132.4 170.8h1.5M121.0 187.5h1.5M124.9 169.9h1.5M123.9 171.8h1.5M128.9 175.2h1.5M115.1 177.0h1.5M111.1 177.4h1.5M129.9 171.2h1.5M117.0 174.0h1.5M122.1 177.7h1.5M129.2 178.3h1.5M114.8 188.8h1.5M113.4 176.0h1.5M101.9 189.8h1.5M137.9 162.8h1.5M97.9 194.9h1.5M134.5 172.4h1.5M109.1 181.7h1.5M114.0 175.3h1.5M128.4 173.0h1.5M114.8 177.6h1.5M110.5 179.8h1.5M110.7 178.0h1.5M119.2 179.5h1.5M119.8 179.9h1.5M120.3 190.6h1.5M126.2 166.7h1.5M112.2 173.3h1.5M113.5 179.2h1.5M108.7 186.9h1.5M122.6 169.8h1.5M111.1 177.9h1.5M137.2 162.7h1.5M126.8 163.5h1.5M116.4 181.3h1.5M129.5 169.9h1.5M119.4 163.8h1.5M113.5 179.6h1.5M137.0 162.6h1.5M124.9 172.3h1.5M122.8 169.3h1.5M121.0 176.8h1.5M121.7 179.6h1.5M115.6 173.1h1.5M121.2 178.3h1.5M113.6 184.8h1.5M118.0 172.9h1.5M118.1 184.3h1.5M121.0 175.7h1.5M120.0 176.1h1.5M110.2 179.9h1.5M125.7 180.3h1.5M120.4 179.3h1.5M116.9 170.0h1.5M108.3 183.7h1.5M114.7 180.1h1.5M117.4 180.9h1.5M118.6 178.7h1.5M118.4 181.6h1.5M122.5 177.7h1.5M121.0 174.7h1.5M120.3 180.5h1.5M113.4 177.5h1.5M113.1 177.8h1.5M121.9 177.2h1.5M120.0 177.1h1.5M127.1 172.4h1.5M116.2 172.5h1.5M118.3 185.0h1.5M122.3 177.3h1.5M116.0 180.7h1.5M113.1 179.2h1.5M115.3 178.2h1.5M116.5 175.4h1.5M116.3 180.6h1.5M119.2 173.6h1.5M116.6 173.4h1.5M124.6 181.1h1.5M117.5 182.7h1.5M119.5 175.4h1.5M125.5 172.5h1.5M120.9 179.1h1.5M117.7 179.1h1.5M113.5 187.7h1.5M121.4 176.9h1.5M120.3 176.2h1.5M118.1 180.5h1.5M125.1 175.8h1.5M112.7 175.1h1.5M129.7 158.6h1.5M106.8 147.8h1.5M116.4 166.8h1.5M119.2 144.3h1.5M132.5 164.2h1.5M115.2 154.6h1.5M114.8 148.8h1.5M123.4 141.8h1.5M147.6 165.8h1.5M118.3 152.4h1.5M95.3 165.4h1.5M125.8 169.7h1.5M136.4 166.8h1.5M147.5 158.9h1.5M132.7 118.8h1.5M145.3 152.1h1.5M122.3 176.6h1.5M106.0 140.5h1.5M122.9 150.7h1.5M130.3 151.0h1.5M106.9 147.3h1.5M144.7 131.8h1.5M127.6 145.5h1.5M113.2 147.9h1.5M135.0 150.0h1.5M102.6 164.2h1.5M165.9 110.7h1.5M151.4 118.6h1.5M122.3 105.4h1.5M125.2 94.3h1.5M124.0 114.1h1.5M170.6 74.3h1.5M150.7 121.8h1.5M127.7 123.8h1.5M130.1 100.0h1.5M141.9 141.9h1.5M130.1 118.4h1.5M167.7 107.9h1.5M133.5 116.4h1.5M136.2 114.3h1.5M136.4 101.9h1.5M136.1 79.8h1.5M149.5 109.5h1.5M151.0 131.9h1.5M153.5 106.1h1.5M146.3 99.6h1.5M147.9 117.3h1.5M158.3 129.9h1.5M137.5 135.5h1.5M140.1 128.6h1.5M153.9 134.5h1.5M145.2 104.3h1.5M149.0 108.8h1.5M145.1 132.4h1.5M131.4 91.9h1.5M151.3 108.9h1.5M156.5 88.7h1.5M131.6 113.3h1.5M113.3 134.9h1.5M150.4 118.2h1.5M132.5 110.0h1.5M132.7 89.8h1.5M127.0 131.8h1.5M143.5 101.2h1.5M129.2 99.4h1.5M167.2 98.1h1.5M135.6 114.7h1.5M147.6 116.3h1.5M137.0 95.6h1.5M157.9 112.2h1.5M109.4 100.4h1.5M150.2 106.1h1.5M144.0 85.8h1.5M111.2 111.2h1.5M138.7 95.1h1.5M129.6 132.7h1.5M146.5 103.9h1.5M156.2 119.4h1.5M144.6 83.9h1.5M152.4 111.9h1.5M141.3 87.6h1.5M136.5 132.1h1.5M157.0 126.6h1.5M138.0 114.3h1.5M151.4 104.7h1.5M150.0 84.7h1.5M138.2 98.5h1.5M136.6 88.9h1.5M148.2 97.5h1.5M144.1 94.2h1.5M144.4 97.5h1.5M161.7 110.2h1.5M149.4 129.9h1.5M166.1 135.5h1.5M117.7 76.4h1.5M154.2 128.9h1.5M155.6 97.3h1.5M146.5 105.9h1.5M154.3 114.5h1.5M162.1 101.4h1.5M154.9 112.3h1.5M143.0 122.4h1.5M144.9 112.6h1.5M139.2 109.9h1.5M135.4 107.6h1.5M144.5 117.5h1.5M126.9 143.2h1.5M166.3 120.4h1.5M143.4 88.4h1.5M133.0 117.0h1.5M139.2 116.3h1.5M169.1 90.0h1.5M156.2 91.6h1.5M158.8 94.9h1.5M163.0 79.4h1.5M161.3 86.7h1.5M141.8 91.8h1.5M159.7 82.5h1.5M162.8 83.9h1.5M150.0 107.3h1.5M153.1 82.1h1.5M162.6 84.5h1.5M161.6 82.9h1.5M149.6 106.8h1.5M154.3 103.0h1.5M171.4 99.4h1.5M82.3 66.3h1.5M70.0 73.1h1.5M82.4 152.2h1.5M96.2 150.0h1.5M104.1 142.4h1.5M118.1 192.0h1.5M154.6 120.3h1.5M82.7 99.0h1.5M71.3 30.0h1.5M125.1 183.8h1.5M84.8 191.7h1.5M89.1 126.3h1.5M81.9 173.2h1.5M120.5 64.9h1.5M149.3 67.0h1.5M152.0 176.3h1.5M93.1 141.6h1.5M124.6 27.4h1.5M72.7 26.9h1.5M90.6 26.9h1.5M102.8 27.3h1.5M145.6 27.2h1.5" stroke="#000" stroke-width="1.5" stroke-opacity="0.3" fill="none"/><path d="M65.7 199.0h1.5M66.6 196.0h1.5M64.3 199.7h1.5M62.0 188.6h1.5M60.9 203.3h1.5M68.2 192.0h1.5M67.8 195.6h1.5M68.9 190.2h1.5M72.4 192.9h1.5M73.2 192.1h1.5M60.9 192.4h1.5M68.0 195.0h1.5M63.5 196.2h1.5M65.5 199.6h1.5M61.1 202.1h1.5M64.7 199.6h1.5M65.9 189.3h1.5M70.3 194.1h1.5M67.5 187.1h1.5M71.2 197.0h1.5M74.0 189.8h1.5M67.0 199.7h1.5M73.8 188.8h1.5M62.2 194.3h1.5M67.2 198.7h1.5M60.9 197.8h1.5M74.2 194.1h1.5M68.4 193.3h1.5M83.0 170.8h1.5M68.6 194.0h1.5M73.9 190.8h1.5M69.4 203.7h1.5M68.8 187.2h1.5M63.5 193.1h1.5M72.2 204.9h1.5M63.3 197.9h1.5M67.9 197.4h1.5M66.6 189.2h1.5M63.9 197.8h1.5M61.5 207.6h1.5M67.7 185.4h1.5M67.6 194.0h1.5M74.7 186.9h1.5M61.1 210.8h1.5M73.7 187.9h1.5M65.7 201.9h1.5M70.8 192.8h1.5M72.6 188.4h1.5M70.3 205.6h1.5M65.2 206.4h1.5M70.7 184.9h1.5M68.2 194.2h1.5M74.4 187.5h1.5M69.6 189.3h1.5M70.7 193.5h1.5M69.3 193.1h1.5M65.1 190.9h1.5M69.4 198.1h1.5M68.7 191.1h1.5M75.5 179.0h1.5M70.8 186.1h1.5M76.1 186.9h1.5M68.0 203.8h1.5M69.1 183.4h1.5M69.2 193.1h1.5M67.8 195.4h1.5M73.4 187.9h1.5M67.2 188.9h1.5M75.6 182.6h1.5M66.3 198.0h1.5M65.0 195.1h1.5M68.5 200.7h1.5M66.7 186.6h1.5M61.1 198.0h1.5M62.3 196.5h1.5M62.4 197.0h1.5M64.9 199.0h1.5M63.4 200.9h1.5M60.7 203.6h1.5M66.9 194.6h1.5M66.4 196.7h1.5M72.3 196.4h1.5M62.8 202.9h1.5M67.1 200.7h1.5M62.3 197.2h1.5M62.8 200.6h1.5M60.8 201.8h1.5M65.1 201.3h1.5M64.9 200.0h1.5M63.1 204.2h1.5M69.4 196.5h1.5M63.3 203.2h1.5M67.4 195.2h1.5M63.6 208.9h1.5M66.0 201.1h1.5M60.7 191.8h1.5M62.6 202.5h1.5M66.7 189.6h1.5M84.5 190.3h1.5M96.8 168.6h1.5M82.5 182.6h1.5M93.3 182.2h1.5M81.6 186.4h1.5M93.0 182.6h1.5M75.6 187.2h1.5M74.6 177.7h1.5M85.3 177.2h1.5M88.0 178.5h1.5M88.8 177.7h1.5M95.3 192.1h1.5M60.5 190.2h1.5M87.8 178.8h1.5M75.8 181.6h1.5M93.6 185.6h1.5M80.5 186.2h1.5M82.9 177.5h1.5M95.8 169.0h1.5M77.9 176.5h1.5M89.5 178.3h1.5M98.9 164.2h1.5M59.9 169.0h1.5M79.9 189.2h1.5M91.1 171.9h1.5M86.7 174.4h1.5M87.8 173.6h1.5M75.5 184.1h1.5M97.1 199.4h1.5M92.1 191.6h1.5M85.7 186.9h1.5M99.5 192.2h1.5M97.9 176.2h1.5M87.4 191.3h1.5M85.1 185.2h1.5M82.0 189.1h1.5M88.1 183.9h1.5M60.8 185.5h1.5M93.1 181.9h1.5M92.3 174.8h1.5M76.5 165.4h1.5M104.7 181.1h1.5M87.4 170.0h1.5M93.6 173.7h1.5M89.2 182.3h1.5M77.9 176.9h1.5M82.2 194.0h1.5M72.0 174.8h1.5M94.2 191.8h1.5M84.4 196.2h1.5M77.4 190.1h1.5M102.5 182.9h1.5M85.4 183.7h1.5M90.4 188.2h1.5M78.1 198.1h1.5M109.9 183.6h1.5M83.8 180.4h1.5M99.6 183.8h1.5M102.4 167.1h1.5M115.0 177.9h1.5M65.9 174.9h1.5M76.2 179.3h1.5M107.6 182.2h1.5M90.2 199.8h1.5M69.1 181.0h1.5M107.1 168.6h1.5M91.3 176.8h1.5M104.4 198.2h1.5M84.3 195.3h1.5M88.5 163.5h1.5M85.3 187.0h1.5M81.4 173.3h1.5M71.5 194.3h1.5M96.8 165.0h1.5M74.8 191.6h1.5M89.3 161.2h1.5M90.0 165.3h1.5M77.8 193.0h1.5M61.0 204.0h1.5M85.7 178.1h1.5M71.2 188.5h1.5M105.6 179.6h1.5M72.4 167.6h1.5M96.2 177.9h1.5M82.6 176.4h1.5M94.6 176.1h1.5M83.1 173.7h1.5M71.2 147.7h1.5M102.9 130.9h1.5M68.7 155.0h1.5M76.3 149.6h1.5M95.7 200.2h1.5M63.0 147.0h1.5M90.9 113.7h1.5M71.7 158.2h1.5M67.7 170.0h1.5M83.5 130.9h1.5M87.8 117.5h1.5M77.7 104.6h1.5M97.9 184.4h1.5M83.8 128.3h1.5M94.7 122.0h1.5M87.7 126.7h1.5M74.1 124.7h1.5M69.2 123.3h1.5M83.5 92.4h1.5M84.7 135.0h1.5M79.1 124.8h1.5M60.3 130.5h1.5M71.0 118.5h1.5M87.7 177.6h1.5M89.0 151.2h1.5M77.0 127.8h1.5M96.3 131.5h1.5M68.1 185.4h1.5M82.0 124.7h1.5M100.0 125.3h1.5M80.4 134.8h1.5M61.4 143.2h1.5M65.2 122.2h1.5M74.1 150.0h1.5M79.2 144.5h1.5M95.7 103.8h1.5M75.9 159.0h1.5M94.7 133.0h1.5M84.1 155.6h1.5M89.3 126.0h1.5M93.1 202.9h1.5M67.2 138.1h1.5M65.7 132.8h1.5M123.6 174.2h1.5M116.3 187.7h1.5M115.4 185.8h1.5M116.9 174.0h1.5M126.3 161.0h1.5M108.7 189.6h1.5M109.2 180.3h1.5M107.3 177.0h1.5M125.0 183.9h1.5M128.6 163.0h1.5M124.2 185.8h1.5M118.2 183.1h1.5M122.5 169.6h1.5M113.6 177.6h1.5M128.2 189.2h1.5M119.8 170.9h1.5M121.9 176.0h1.5M119.2 181.1h1.5M130.5 175.2h1.5M115.0 173.1h1.5M135.8 179.2h1.5M125.9 169.1h1.5M106.1 187.7h1.5M129.9 167.7h1.5M106.8 180.9h1.5M123.3 179.0h1.5M114.9 192.8h1.5M123.4 180.8h1.5M117.4 163.5h1.5M125.6 174.7h1.5M121.0 185.3h1.5M117.5 176.4h1.5M115.2 176.8h1.5M125.2 187.9h1.5M125.3 163.6h1.5M125.0 171.5h1.5M120.7 191.0h1.5M120.4 184.6h1.5M113.3 183.3h1.5M124.5 178.0h1.5M121.3 178.4h1.5M131.1 173.8h1.5M119.7 169.5h1.5M115.7 179.7h1.5M104.7 189.1h1.5M137.9 158.0h1.5M128.6 172.1h1.5M116.1 177.3h1.5M115.9 181.3h1.5M128.8 164.6h1.5M123.6 185.7h1.5M137.1 167.4h1.5M113.1 180.8h1.5M116.9 182.3h1.5M126.4 169.0h1.5M118.9 185.2h1.5M124.0 185.8h1.5M102.6 187.8h1.5M113.3 170.5h1.5M108.7 172.4h1.5M116.4 176.9h1.5M113.7 178.0h1.5M114.8 181.6h1.5M101.9 187.5h1.5M107.6 168.0h1.5M114.8 177.7h1.5M118.8 181.8h1.5M119.4 180.6h1.5M119.2 198.1h1.5M126.9 173.2h1.5M112.8 201.7h1.5M102.0 186.4h1.5M111.9 186.5h1.5M113.9 182.2h1.5M131.0 164.1h1.5M130.5 160.4h1.5M110.7 179.1h1.5M120.8 167.1h1.5M122.1 177.2h1.5M110.9 187.2h1.5M136.2 169.6h1.5M119.4 173.3h1.5M115.6 177.3h1.5M128.6 168.5h1.5M114.8 183.3h1.5M108.5 186.5h1.5M110.8 175.1h1.5M124.0 179.1h1.5M129.9 169.8h1.5M119.5 175.9h1.5M119.9 176.8h1.5M117.3 179.3h1.5M116.5 176.4h1.5M108.8 180.3h1.5M120.7 181.8h1.5M113.6 183.8h1.5M124.7 169.9h1.5M131.2 171.1h1.5M108.1 182.4h1.5M116.3 190.6h1.5M106.3 199.0h1.5M127.5 173.6h1.5M107.7 178.9h1.5M105.8 180.9h1.5M125.0 181.8h1.5M131.9 171.3h1.5M128.0 174.7h1.5M112.7 185.8h1.5M115.3 180.6h1.5M115.5 193.0h1.5M121.2 178.3h1.5M118.2 171.2h1.5M116.0 183.7h1.5M121.7 166.4h1.5M126.3 175.1h1.5M123.5 169.2h1.5M118.4 167.9h1.5M111.4 191.8h1.5M119.5 182.5h1.5M132.1 172.1h1.5M114.2 177.1h1.5M119.9 189.8h1.5M93.3 192.2h1.5M128.3 168.7h1.5M127.1 172.5h1.5M103.9 187.5h1.5M121.3 159.4h1.5M123.0 179.0h1.5M116.9 186.8h1.5M112.6 185.5h1.5M114.1 183.7h1.5M135.6 173.4h1.5M127.8 181.0h1.5M104.9 171.5h1.5M113.0 185.3h1.5M117.7 172.3h1.5M117.5 184.6h1.5M116.8 181.5h1.5M123.9 165.7h1.5M132.5 164.5h1.5M114.4 193.1h1.5M114.1 191.3h1.5M108.9 180.8h1.5M132.0 172.3h1.5M104.2 178.3h1.5M98.5 179.3h1.5M129.4 163.7h1.5M107.6 188.4h1.5M118.9 181.4h1.5M110.1 173.4h1.5M109.1 173.8h1.5M119.7 179.5h1.5M114.3 177.3h1.5M111.4 184.9h1.5M108.2 189.1h1.5M125.7 178.4h1.5M115.6 180.3h1.5M116.5 181.5h1.5M121.8 173.0h1.5M120.0 181.9h1.5M115.6 180.2h1.5M115.9 181.2h1.5M113.4 176.3h1.5M120.4 170.5h1.5M119.0 175.0h1.5M116.7 180.9h1.5M120.2 171.2h1.5M121.5 178.4h1.5M113.2 183.5h1.5M116.3 181.0h1.5M120.4 173.9h1.5M116.1 180.5h1.5M111.4 179.9h1.5M113.3 177.4h1.5M121.5 168.7h1.5M117.0 183.3h1.5M122.8 176.6h1.5M118.3 178.8h1.5M116.2 184.6h1.5M112.1 181.0h1.5M121.4 174.0h1.5M114.2 180.5h1.5M120.1 178.5h1.5M113.7 181.2h1.5M120.0 177.8h1.5M120.5 180.3h1.5M115.2 181.0h1.5M120.6 174.2h1.5M118.8 181.3h1.5M124.1 169.4h1.5M120.1 181.6h1.5M118.4 182.5h1.5M124.4 176.6h1.5M116.6 174.8h1.5M117.8 183.8h1.5M96.1 140.2h1.5M132.1 153.0h1.5M135.4 154.7h1.5M124.4 139.4h1.5M157.4 156.7h1.5M134.8 157.5h1.5M145.2 161.5h1.5M117.3 139.8h1.5M150.6 151.2h1.5M147.5 102.9h1.5M136.7 151.7h1.5M139.9 148.6h1.5M145.9 177.4h1.5M121.4 145.6h1.5M167.9 148.0h1.5M127.1 164.2h1.5M132.2 133.6h1.5M137.1 147.7h1.5M129.1 171.1h1.5M130.9 133.6h1.5M142.1 161.6h1.5M124.9 141.8h1.5M115.4 174.0h1.5M129.5 143.7h1.5M130.4 168.0h1.5M137.0 157.9h1.5M158.7 111.5h1.5M149.4 116.3h1.5M138.0 103.4h1.5M131.3 133.4h1.5M151.1 138.0h1.5M136.9 156.3h1.5M131.8 108.8h1.5M120.7 124.8h1.5M166.3 168.1h1.5M125.4 92.2h1.5M148.6 130.9h1.5M135.3 82.2h1.5M126.0 93.5h1.5M147.8 139.2h1.5M144.3 91.2h1.5M142.5 86.9h1.5M152.9 128.8h1.5M133.1 107.8h1.5M147.2 105.5h1.5M145.2 129.9h1.5M159.6 90.4h1.5M145.8 102.8h1.5M138.1 119.9h1.5M162.7 108.1h1.5M159.3 112.5h1.5M129.2 118.2h1.5M154.9 122.7h1.5M153.4 92.9h1.5M130.8 64.8h1.5M129.1 96.2h1.5M140.6 123.5h1.5M152.5 126.8h1.5M136.7 131.0h1.5M161.3 109.6h1.5M130.6 75.7h1.5M137.2 125.4h1.5M148.2 110.0h1.5M143.1 125.7h1.5M161.6 86.8h1.5M129.0 97.9h1.5M126.3 132.0h1.5M147.8 95.7h1.5M131.2 144.0h1.5M141.4 107.1h1.5M134.6 111.2h1.5M147.4 142.3h1.5M158.4 112.5h1.5M130.9 101.6h1.5M160.0 124.9h1.5M136.9 99.3h1.5M150.2 120.6h1.5M132.7 110.3h1.5M174.3 112.8h1.5M136.4 106.3h1.5M157.5 95.3h1.5M136.4 105.3h1.5M155.3 113.5h1.5M143.9 108.7h1.5M157.0 121.6h1.5M144.8 102.7h1.5M154.7 122.8h1.5M147.7 86.7h1.5M144.1 109.8h1.5M140.1 129.2h1.5M126.9 114.7h1.5M129.4 109.5h1.5M158.8 133.2h1.5M142.7 90.8h1.5M145.3 88.9h1.5M134.9 136.6h1.5M156.2 94.8h1.5M128.8 97.3h1.5M145.4 116.4h1.5M149.8 104.5h1.5M144.4 107.3h1.5M167.1 104.9h1.5M134.2 112.7h1.5M146.3 108.8h1.5M133.8 107.1h1.5M154.5 108.0h1.5M147.2 93.2h1.5M153.9 78.6h1.5M156.8 112.2h1.5M151.8 117.5h1.5M141.6 116.6h1.5M156.9 96.9h1.5M163.1 89.5h1.5M166.6 82.6h1.5M158.8 87.0h1.5M159.1 83.8h1.5M176.9 86.9h1.5M173.8 80.2h1.5M165.2 112.8h1.5M170.2 75.5h1.5M169.5 72.3h1.5M159.6 92.4h1.5M154.8 78.5h1.5M174.8 87.8h1.5M159.7 98.4h1.5M148.3 85.7h1.5M143.7 35.5h1.5M154.3 194.5h1.5M158.2 169.5h1.5M153.8 124.5h1.5M111.5 36.1h1.5M156.6 140.9h1.5M134.7 60.6h1.5M128.0 184.0h1.5M62.9 106.3h1.5M149.8 171.0h1.5M74.2 209.1h1.5M160.6 83.4h1.5M147.9 132.7h1.5M81.3 58.5h1.5M87.2 59.0h1.5M77.2 107.9h1.5M57.8 142.5h1.5M112.1 94.9h1.5M63.9 99.2h1.5M92.5 28.7h1.5M128.6 27.2h1.5M125.2 27.1h1.5M143.1 26.8h1.5M117.2 26.6h1.5M74.9 27.1h1.5" stroke="#000" stroke-width="1.5" stroke-opacity="0.3" fill="none"/><path d="M64.7 196.4h1.5M63.6 196.5h1.5M61.6 209.6h1.5M78.0 194.7h1.5M61.7 198.1h1.5M73.0 189.6h1.5M65.3 190.8h1.5M74.9 187.9h1.5M74.3 187.2h1.5M78.8 187.2h1.5M62.8 194.6h1.5M65.5 198.4h1.5M68.6 194.2h1.5M65.4 188.8h1.5M63.9 198.3h1.5M62.6 199.2h1.5M70.8 195.3h1.5M63.5 190.1h1.5M64.3 200.5h1.5M64.8 204.5h1.5M68.3 191.4h1.5M69.5 194.7h1.5M67.4 197.7h1.5M63.3 194.8h1.5M71.8 190.9h1.5M64.8 189.1h1.5M63.6 190.6h1.5M61.3 201.5h1.5M60.6 205.9h1.5M61.0 203.4h1.5M66.6 193.1h1.5M76.3 176.0h1.5M68.5 194.1h1.5M67.0 200.2h1.5M62.8 194.8h1.5M66.9 196.1h1.5M69.0 189.1h1.5M72.2 196.9h1.5M68.3 191.8h1.5M63.8 200.7h1.5M67.2 196.1h1.5M67.6 207.0h1.5M62.2 193.9h1.5M81.8 187.9h1.5M62.2 194.0h1.5M66.9 192.8h1.5M73.4 199.6h1.5M63.4 191.0h1.5M73.0 195.2h1.5M64.1 193.6h1.5M72.5 190.5h1.5M63.0 201.1h1.5M59.4 194.0h1.5M66.8 203.5h1.5M68.4 193.2h1.5M71.4 183.2h1.5M78.6 180.6h1.5M75.1 185.6h1.5M61.0 203.3h1.5M65.3 189.7h1.5M69.4 200.9h1.5M64.6 195.7h1.5M65.4 201.2h1.5M71.8 195.6h1.5M74.3 183.8h1.5M68.9 196.6h1.5M63.9 203.3h1.5M66.9 201.6h1.5M74.5 190.4h1.5M72.9 189.3h1.5M68.1 201.2h1.5M66.2 199.4h1.5M65.2 202.2h1.5M65.2 194.9h1.5M63.7 200.2h1.5M65.3 201.5h1.5M67.7 192.5h1.5M61.9 197.5h1.5M66.8 197.6h1.5M66.8 197.8h1.5M72.1 199.4h1.5M62.0 194.7h1.5M66.9 193.0h1.5M70.1 196.3h1.5M63.4 203.4h1.5M67.7 191.5h1.5M63.1 205.9h1.5M65.1 206.8h1.5M70.5 193.3h1.5M64.0 192.3h1.5M62.8 199.9h1.5M62.8 202.1h1.5M72.6 187.6h1.5M65.6 198.4h1.5M61.1 202.7h1.5M64.3 194.5h1.5M60.7 209.4h1.5M101.2 191.6h1.5M70.7 185.7h1.5M67.9 186.1h1.5M79.3 197.0h1.5M86.9 178.7h1.5M95.6 204.0h1.5M87.5 207.1h1.5M92.0 166.9h1.5M89.2 179.0h1.5M105.8 179.2h1.5M76.3 174.8h1.5M94.1 180.4h1.5M85.3 168.6h1.5M86.2 170.3h1.5M74.9 174.5h1.5M96.9 176.8h1.5M96.3 193.4h1.5M90.3 187.2h1.5M104.7 174.7h1.5M111.7 172.7h1.5M78.8 191.8h1.5M78.1 172.4h1.5M91.1 181.3h1.5M66.8 165.1h1.5M90.5 182.2h1.5M77.5 196.2h1.5M86.3 175.8h1.5M82.7 184.7h1.5M73.9 155.4h1.5M103.4 168.3h1.5M70.2 191.7h1.5M87.7 181.5h1.5M92.6 179.6h1.5M96.5 188.3h1.5M79.8 179.5h1.5M86.5 162.1h1.5M86.9 181.7h1.5M96.6 167.4h1.5M89.4 179.3h1.5M79.9 194.2h1.5M60.4 172.1h1.5M94.1 176.8h1.5M102.5 186.0h1.5M100.7 168.4h1.5M84.0 195.9h1.5M94.8 192.6h1.5M90.6 182.6h1.5M80.4 177.0h1.5M86.2 173.9h1.5M89.2 181.6h1.5M71.2 184.5h1.5M74.8 202.9h1.5M72.7 181.9h1.5M77.8 175.5h1.5M85.1 189.4h1.5M93.3 185.4h1.5M88.2 176.7h1.5M97.9 206.6h1.5M95.9 162.7h1.5M127.8 182.6h1.5M89.9 194.6h1.5M91.4 169.9h1.5M84.6 175.7h1.5M92.8 188.6h1.5M102.0 176.4h1.5M109.7 177.6h1.5M114.9 179.4h1.5M79.2 198.9h1.5M88.0 195.2h1.5M65.2 199.7h1.5M69.5 178.2h1.5M61.0 190.0h1.5M84.8 170.7h1.5M110.5 185.2h1.5M105.3 177.3h1.5M102.9 174.8h1.5M103.8 164.7h1.5M89.1 180.8h1.5M87.1 184.5h1.5M111.6 182.7h1.5M95.3 185.4h1.5M77.1 184.3h1.5M90.6 173.3h1.5M93.1 180.4h1.5M65.0 178.2h1.5M69.0 177.7h1.5M81.5 115.0h1.5M84.4 155.2h1.5M62.6 152.0h1.5M110.4 93.5h1.5M79.5 155.4h1.5M89.3 161.6h1.5M72.7 159.4h1.5M89.0 125.5h1.5M83.6 147.3h1.5M60.7 159.5h1.5M78.8 122.6h1.5M59.6 170.8h1.5M64.4 138.4h1.5M59.9 178.5h1.5M81.5 112.1h1.5M64.5 167.4h1.5M82.1 183.7h1.5M80.8 115.1h1.5M98.7 139.1h1.5M75.9 174.9h1.5M69.7 140.9h1.5M97.2 91.3h1.5M99.9 126.1h1.5M74.6 158.0h1.5M63.5 164.4h1.5M81.3 149.9h1.5M82.6 136.2h1.5M85.4 167.6h1.5M70.9 164.0h1.5M72.6 121.3h1.5M74.3 161.5h1.5M81.4 118.8h1.5M95.9 137.6h1.5M77.2 143.0h1.5M77.2 123.9h1.5M73.1 158.1h1.5M100.7 102.6h1.5M81.2 170.2h1.5M76.1 165.8h1.5M84.4 167.8h1.5M82.2 164.2h1.5M99.8 143.3h1.5M89.3 114.8h1.5M97.5 133.1h1.5M118.5 184.6h1.5M119.2 181.6h1.5M119.3 172.3h1.5M112.3 177.8h1.5M124.3 184.4h1.5M131.9 173.1h1.5M135.4 169.3h1.5M124.5 156.7h1.5M123.5 175.9h1.5M113.7 183.2h1.5M117.6 187.9h1.5M125.4 185.3h1.5M121.3 174.7h1.5M117.7 167.1h1.5M104.9 195.1h1.5M118.7 180.3h1.5M121.7 167.7h1.5M116.0 176.6h1.5M126.5 177.8h1.5M128.2 173.6h1.5M119.6 189.1h1.5M108.0 177.0h1.5M117.9 178.7h1.5M128.2 177.3h1.5M131.7 179.7h1.5M119.5 180.5h1.5M115.6 186.3h1.5M112.2 179.2h1.5M119.2 174.5h1.5M111.9 181.5h1.5M113.1 192.7h1.5M126.2 173.8h1.5M121.1 187.1h1.5M114.4 181.4h1.5M109.8 185.4h1.5M117.7 173.5h1.5M109.5 173.7h1.5M127.9 171.9h1.5M103.5 171.7h1.5M122.6 171.7h1.5M126.4 167.5h1.5M125.9 166.4h1.5M123.0 180.0h1.5M131.4 174.6h1.5M117.9 177.8h1.5M123.9 178.6h1.5M127.4 172.0h1.5M107.6 187.9h1.5M130.1 161.5h1.5M119.0 176.7h1.5M119.5 173.7h1.5M123.1 176.4h1.5M112.5 192.2h1.5M119.6 165.6h1.5M125.9 180.1h1.5M124.6 173.6h1.5M118.2 179.6h1.5M113.9 185.6h1.5M120.0 163.6h1.5M130.2 183.4h1.5M122.9 182.5h1.5M115.8 190.7h1.5M118.3 180.1h1.5M115.6 171.8h1.5M122.6 177.5h1.5M136.9 179.2h1.5M108.6 181.3h1.5M132.1 183.6h1.5M120.8 169.3h1.5M111.7 177.8h1.5M114.6 188.8h1.5M110.2 180.5h1.5M129.1 163.5h1.5M104.1 190.5h1.5M138.7 170.0h1.5M120.0 175.0h1.5M121.2 175.4h1.5M109.4 183.3h1.5M124.6 187.9h1.5M126.9 172.2h1.5M126.3 186.7h1.5M110.1 186.0h1.5M115.0 181.8h1.5M117.0 178.0h1.5M112.3 181.3h1.5M113.8 166.0h1.5M110.6 178.3h1.5M115.7 172.2h1.5M118.8 179.0h1.5M108.3 179.4h1.5M115.7 183.6h1.5M117.5 166.1h1.5M118.4 185.9h1.5M121.4 180.3h1.5M109.3 180.7h1.5M117.4 183.3h1.5M133.2 159.4h1.5M109.7 180.0h1.5M120.5 171.2h1.5M121.3 169.0h1.5M115.3 179.4h1.5M98.6 186.1h1.5M113.9 181.3h1.5M123.1 177.5h1.5M124.2 174.9h1.5M107.4 179.7h1.5M110.3 194.4h1.5M127.6 176.2h1.5M116.4 180.9h1.5M103.0 194.1h1.5M137.6 170.9h1.5M115.8 172.3h1.5M125.8 168.3h1.5M134.7 176.8h1.5M119.7 178.7h1.5M117.5 181.6h1.5M110.2 183.8h1.5M125.2 170.7h1.5M120.7 184.5h1.5M115.1 192.1h1.5M126.7 178.4h1.5M119.7 168.9h1.5M103.6 179.4h1.5M126.8 172.3h1.5M129.8 175.8h1.5M123.2 167.5h1.5M127.4 192.0h1.5M130.0 178.2h1.5M107.1 181.1h1.5M125.1 170.4h1.5M108.1 184.7h1.5M110.7 174.5h1.5M116.2 180.8h1.5M124.1 173.9h1.5M117.2 177.8h1.5M108.7 182.0h1.5M126.1 180.2h1.5M113.3 182.2h1.5M132.6 176.7h1.5M122.3 159.5h1.5M113.6 172.5h1.5M101.1 182.7h1.5M114.4 184.2h1.5M111.6 179.0h1.5M118.3 179.2h1.5M105.7 176.9h1.5M121.1 179.3h1.5M113.9 183.6h1.5M135.7 167.4h1.5M124.0 165.5h1.5M112.2 181.6h1.5M116.0 179.5h1.5M123.5 179.6h1.5M119.5 177.4h1.5M119.2 175.8h1.5M117.4 181.4h1.5M112.8 174.2h1.5M115.8 184.6h1.5M116.7 169.0h1.5M116.2 178.5h1.5M116.0 174.7h1.5M120.4 180.9h1.5M115.8 173.1h1.5M122.7 177.6h1.5M122.1 176.1h1.5M117.2 177.0h1.5M126.1 176.0h1.5M118.4 176.4h1.5M118.8 180.8h1.5M113.4 179.8h1.5M116.6 181.8h1.5M121.8 181.3h1.5M117.7 175.6h1.5M113.3 180.4h1.5M124.4 177.7h1.5M125.5 173.2h1.5M115.2 180.2h1.5M115.6 181.3h1.5M118.8 175.1h1.5M117.1 169.0h1.5M125.3 174.8h1.5M113.4 178.1h1.5M114.7 173.7h1.5M111.9 181.1h1.5M122.2 175.3h1.5M117.8 180.1h1.5M129.7 177.0h1.5M119.2 176.0h1.5M116.7 176.7h1.5M111.7 180.6h1.5M123.4 174.3h1.5M117.1 176.8h1.5M120.7 180.1h1.5M119.2 172.6h1.5M116.9 175.3h1.5M106.0 159.6h1.5M124.7 143.1h1.5M127.5 136.3h1.5M126.0 131.7h1.5M141.5 166.3h1.5M123.3 141.2h1.5M121.8 124.3h1.5M148.7 123.7h1.5M152.7 137.0h1.5M105.6 138.0h1.5M130.7 157.0h1.5M131.0 164.2h1.5M138.4 140.4h1.5M113.7 188.5h1.5M122.4 174.9h1.5M127.8 160.9h1.5M148.9 153.2h1.5M120.8 134.2h1.5M130.2 139.0h1.5M121.5 134.0h1.5M126.5 175.3h1.5M133.0 155.6h1.5M123.6 160.8h1.5M128.2 130.6h1.5M126.1 145.7h1.5M124.7 135.0h1.5M137.0 85.7h1.5M139.1 132.5h1.5M143.6 105.5h1.5M142.2 124.6h1.5M133.1 161.8h1.5M117.5 109.7h1.5M150.8 103.6h1.5M138.9 109.3h1.5M143.0 81.8h1.5M149.9 70.6h1.5M154.9 117.3h1.5M148.5 71.3h1.5M128.7 65.5h1.5M171.7 119.9h1.5M162.7 75.1h1.5M161.7 164.8h1.5M172.5 91.5h1.5M138.5 88.9h1.5M130.8 113.4h1.5M144.8 93.7h1.5M155.1 116.1h1.5M141.8 142.4h1.5M151.3 116.2h1.5M152.8 107.3h1.5M160.4 102.8h1.5M151.7 114.2h1.5M142.7 79.3h1.5M144.3 94.6h1.5M145.1 95.9h1.5M149.5 119.5h1.5M136.5 81.7h1.5M146.2 140.5h1.5M108.0 92.9h1.5M145.1 109.0h1.5M145.1 109.6h1.5M163.7 133.1h1.5M120.4 115.8h1.5M149.3 98.3h1.5M143.2 102.8h1.5M145.8 126.6h1.5M151.3 109.6h1.5M165.3 111.9h1.5M166.8 87.9h1.5M118.9 111.6h1.5M155.5 126.7h1.5M142.7 113.9h1.5M135.0 118.1h1.5M139.8 121.2h1.5M138.3 94.2h1.5M142.6 106.5h1.5M152.4 144.0h1.5M166.3 125.2h1.5M142.2 135.5h1.5M140.8 108.4h1.5M142.4 127.9h1.5M131.8 97.8h1.5M148.2 136.5h1.5M146.5 93.1h1.5M146.3 127.5h1.5M149.7 122.0h1.5M154.4 124.0h1.5M155.2 103.6h1.5M156.8 99.8h1.5M157.8 112.3h1.5M162.2 109.8h1.5M149.4 120.4h1.5M143.9 107.4h1.5M146.8 87.5h1.5M128.2 101.9h1.5M138.9 112.0h1.5M155.0 138.3h1.5M155.1 102.3h1.5M155.0 104.1h1.5M136.1 107.6h1.5M131.4 114.7h1.5M128.7 82.8h1.5M158.3 95.9h1.5M147.0 110.0h1.5M139.5 97.7h1.5M162.9 75.9h1.5M149.9 122.2h1.5M161.8 142.1h1.5M121.4 106.9h1.5M134.4 99.4h1.5M148.9 89.6h1.5M163.9 90.0h1.5M166.8 99.2h1.5M153.6 103.7h1.5M166.7 81.6h1.5M171.7 91.3h1.5M153.2 107.5h1.5M170.7 79.9h1.5M169.7 83.9h1.5M170.8 102.0h1.5M172.2 99.9h1.5M155.1 85.1h1.5M158.2 92.1h1.5M149.6 73.0h1.5M163.7 96.4h1.5M154.2 81.5h1.5M69.5 63.1h1.5M109.9 124.7h1.5M91.5 125.7h1.5M148.5 82.5h1.5M102.8 63.7h1.5M103.4 109.4h1.5M114.7 166.2h1.5M139.1 123.3h1.5M85.4 184.4h1.5M75.9 105.4h1.5M163.2 132.8h1.5M121.7 134.5h1.5M66.7 80.5h1.5M84.7 197.8h1.5M122.4 199.5h1.5M166.7 58.7h1.5M88.5 48.2h1.5M63.7 88.3h1.5M204.9 144.0h1.5M243.5 50.9h1.5M209.4 40.8h1.5M182.4 27.2h1.5M97.5 26.9h1.5M69.1 26.6h1.5M101.8 26.9h1.5M110.9 27.1h1.5M79.7 27.1h1.5" stroke="#000" stroke-width="1.5" stroke-opacity="0.3" fill="none"/><path d="M64.1 198.2h1.5M63.7 188.8h1.5M61.3 199.2h1.5M63.1 195.5h1.5M63.6 200.8h1.5M65.7 202.4h1.5M75.8 183.5h1.5M62.3 207.0h1.5M69.7 192.7h1.5M62.0 204.0h1.5M61.1 205.0h1.5M72.3 187.9h1.5M66.0 189.4h1.5M70.7 198.0h1.5M75.5 181.3h1.5M62.5 190.8h1.5M63.5 199.8h1.5M62.9 192.6h1.5M71.1 194.9h1.5M68.4 192.5h1.5M60.7 209.0h1.5M66.1 197.7h1.5M74.5 180.7h1.5M71.4 197.7h1.5M70.4 191.1h1.5M60.4 197.7h1.5M71.6 185.4h1.5M71.4 194.4h1.5M80.7 176.0h1.5M70.3 185.1h1.5M65.8 194.7h1.5M67.6 201.2h1.5M67.7 190.5h1.5M69.5 194.4h1.5M69.8 192.0h1.5M72.5 195.8h1.5M64.2 197.9h1.5M66.5 195.1h1.5M67.7 199.3h1.5M65.7 193.2h1.5M70.0 195.4h1.5M66.7 192.4h1.5M62.5 193.0h1.5M69.0 205.1h1.5M64.2 197.0h1.5M74.7 196.7h1.5M69.6 189.2h1.5M63.5 207.4h1.5M62.7 200.7h1.5M70.9 187.9h1.5M65.4 199.7h1.5M65.1 206.3h1.5M64.0 203.6h1.5M68.8 201.5h1.5M71.2 182.5h1.5M77.7 189.3h1.5M75.6 184.9h1.5M59.9 195.2h1.5M67.2 192.3h1.5M60.6 214.1h1.5M65.4 195.8h1.5M71.0 189.5h1.5M70.9 191.0h1.5M68.1 200.9h1.5M73.2 197.9h1.5M62.1 208.7h1.5M62.7 199.2h1.5M65.4 198.5h1.5M62.0 199.6h1.5M66.8 194.9h1.5M65.2 200.1h1.5M65.5 199.7h1.5M63.2 200.3h1.5M61.8 202.0h1.5M65.7 200.9h1.5M65.6 205.2h1.5M63.7 201.3h1.5M65.4 204.2h1.5M70.6 196.5h1.5M65.3 197.3h1.5M65.4 205.2h1.5M73.5 188.9h1.5M65.4 198.7h1.5M71.1 197.5h1.5M66.3 202.7h1.5M64.5 198.1h1.5M67.5 200.7h1.5M64.9 198.4h1.5M64.4 197.0h1.5M64.0 204.8h1.5M68.7 199.0h1.5M64.9 200.2h1.5M64.3 202.8h1.5M65.5 199.0h1.5M77.9 167.8h1.5M84.8 190.0h1.5M66.0 198.1h1.5M83.1 186.9h1.5M91.7 192.9h1.5M78.7 199.4h1.5M89.7 175.8h1.5M73.7 176.4h1.5M62.6 200.6h1.5M78.5 178.3h1.5M86.8 175.3h1.5M87.4 197.5h1.5M106.9 170.0h1.5M89.9 173.9h1.5M88.6 190.9h1.5M64.1 171.4h1.5M97.5 186.0h1.5M87.6 175.4h1.5M89.0 181.3h1.5M103.5 181.6h1.5M100.5 169.1h1.5M89.4 171.3h1.5M98.3 173.2h1.5M81.2 179.3h1.5M101.8 174.0h1.5M74.7 207.1h1.5M80.2 181.0h1.5M102.9 182.9h1.5M60.1 181.7h1.5M98.8 181.6h1.5M75.8 201.5h1.5M106.5 173.3h1.5M60.6 173.8h1.5M80.1 188.8h1.5M94.6 176.7h1.5M91.5 180.6h1.5M92.9 172.4h1.5M71.0 186.0h1.5M96.1 179.9h1.5M64.5 169.2h1.5M78.5 183.8h1.5M64.8 190.4h1.5M82.8 179.9h1.5M94.4 192.6h1.5M91.5 176.9h1.5M82.9 173.7h1.5M94.1 201.6h1.5M94.2 180.3h1.5M81.9 188.2h1.5M102.1 186.3h1.5M91.3 146.2h1.5M74.9 181.7h1.5M77.6 180.4h1.5M97.4 175.5h1.5M68.8 179.0h1.5M92.8 172.6h1.5M83.3 181.5h1.5M90.7 162.9h1.5M79.6 177.1h1.5M85.0 182.4h1.5M79.8 197.1h1.5M103.1 190.8h1.5M102.2 184.5h1.5M67.8 189.3h1.5M76.2 194.0h1.5M81.9 181.4h1.5M76.9 167.2h1.5M92.9 195.7h1.5M78.4 189.8h1.5M87.9 182.5h1.5M70.3 178.9h1.5M88.0 164.2h1.5M88.0 183.3h1.5M60.7 196.8h1.5M85.6 184.1h1.5M74.7 190.7h1.5M86.5 181.3h1.5M84.8 172.5h1.5M96.4 168.5h1.5M77.9 180.9h1.5M72.9 192.0h1.5M69.6 198.3h1.5M102.0 174.7h1.5M84.5 183.7h1.5M68.2 169.3h1.5M93.7 190.3h1.5M81.5 183.3h1.5M75.5 142.2h1.5M70.7 136.5h1.5M97.0 154.4h1.5M108.4 106.6h1.5M97.5 172.9h1.5M89.1 120.9h1.5M76.4 193.0h1.5M109.3 132.1h1.5M83.8 110.6h1.5M102.4 114.1h1.5M73.2 135.8h1.5M84.2 123.0h1.5M77.6 135.5h1.5M89.1 147.9h1.5M74.5 120.4h1.5M85.9 136.1h1.5M91.7 131.5h1.5M94.6 124.7h1.5M90.1 110.5h1.5M73.5 131.0h1.5M65.8 103.8h1.5M80.5 155.7h1.5M98.3 169.3h1.5M87.9 125.0h1.5M100.1 143.8h1.5M57.5 137.5h1.5M79.3 133.2h1.5M92.3 148.4h1.5M61.2 163.9h1.5M70.3 171.4h1.5M83.3 148.3h1.5M78.0 122.4h1.5M87.1 131.1h1.5M95.2 130.6h1.5M63.7 117.9h1.5M76.3 171.8h1.5M70.9 158.7h1.5M81.8 121.2h1.5M64.2 123.5h1.5M76.9 152.9h1.5M93.0 128.4h1.5M115.3 124.8h1.5M97.3 90.4h1.5M69.0 169.9h1.5M103.9 193.9h1.5M128.3 180.6h1.5M113.5 177.4h1.5M112.6 187.1h1.5M132.2 179.6h1.5M109.7 168.3h1.5M112.0 182.2h1.5M121.3 177.4h1.5M116.8 170.4h1.5M109.5 189.3h1.5M109.0 191.0h1.5M140.2 159.9h1.5M119.2 178.2h1.5M105.9 179.3h1.5M118.4 177.0h1.5M124.7 170.1h1.5M132.4 164.4h1.5M100.3 196.5h1.5M119.4 179.5h1.5M120.2 183.9h1.5M132.5 173.6h1.5M122.1 175.7h1.5M121.8 172.8h1.5M117.7 178.2h1.5M131.7 175.8h1.5M127.6 181.4h1.5M115.4 168.6h1.5M100.9 181.9h1.5M130.7 173.1h1.5M101.2 184.4h1.5M113.1 185.3h1.5M125.8 189.1h1.5M124.0 169.6h1.5M119.4 184.1h1.5M118.2 188.5h1.5M117.7 171.9h1.5M132.7 169.3h1.5M118.0 192.4h1.5M113.5 169.9h1.5M115.6 186.5h1.5M118.4 182.2h1.5M111.0 171.7h1.5M105.8 186.3h1.5M116.7 179.4h1.5M126.7 172.7h1.5M111.5 183.0h1.5M112.8 181.1h1.5M110.0 186.7h1.5M120.6 188.9h1.5M130.0 170.6h1.5M111.7 186.7h1.5M123.3 172.7h1.5M125.8 168.2h1.5M108.6 184.9h1.5M137.2 162.0h1.5M117.9 183.8h1.5M127.2 178.7h1.5M111.8 173.9h1.5M114.2 186.9h1.5M116.9 182.5h1.5M136.4 163.3h1.5M118.2 172.4h1.5M120.5 170.5h1.5M118.4 181.6h1.5M123.1 174.7h1.5M97.9 186.4h1.5M130.3 172.7h1.5M130.8 171.2h1.5M117.8 165.4h1.5M111.8 185.9h1.5M119.4 180.8h1.5M112.1 191.8h1.5M115.8 175.5h1.5M116.1 189.5h1.5M108.9 182.3h1.5M114.3 178.6h1.5M129.0 175.7h1.5M113.8 182.3h1.5M115.8 187.2h1.5M105.4 173.0h1.5M108.7 183.8h1.5M131.1 177.5h1.5M119.4 167.1h1.5M103.3 186.2h1.5M115.5 176.3h1.5M128.3 176.7h1.5M119.5 176.3h1.5M124.0 175.9h1.5M131.3 171.7h1.5M102.3 176.4h1.5M98.5 194.9h1.5M128.0 175.3h1.5M126.1 172.1h1.5M111.5 186.7h1.5M117.3 174.1h1.5M125.3 175.5h1.5M139.4 167.8h1.5M131.4 166.9h1.5M116.2 175.8h1.5M112.3 178.7h1.5M123.6 167.5h1.5M113.3 185.2h1.5M126.0 177.9h1.5M108.3 174.7h1.5M118.7 169.5h1.5M113.7 174.9h1.5M99.6 180.3h1.5M113.0 192.0h1.5M114.5 188.9h1.5M123.4 176.9h1.5M108.7 181.2h1.5M123.5 194.1h1.5M133.9 159.0h1.5M112.6 181.0h1.5M92.9 190.5h1.5M117.2 172.2h1.5M110.3 181.3h1.5M107.2 177.1h1.5M121.4 179.6h1.5M106.6 171.7h1.5M109.1 194.7h1.5M105.4 170.7h1.5M132.3 165.0h1.5M117.9 182.1h1.5M103.5 185.9h1.5M120.4 184.1h1.5M125.5 172.5h1.5M125.4 170.6h1.5M123.5 175.2h1.5M126.6 166.2h1.5M124.3 179.9h1.5M125.3 177.8h1.5M109.6 179.6h1.5M117.7 167.6h1.5M123.6 169.0h1.5M122.6 189.2h1.5M123.9 180.6h1.5M119.2 180.1h1.5M117.8 186.8h1.5M105.4 186.6h1.5M107.2 180.1h1.5M115.8 167.2h1.5M116.8 170.0h1.5M123.2 171.9h1.5M111.8 177.3h1.5M117.5 185.4h1.5M106.2 180.8h1.5M116.2 176.6h1.5M116.2 181.1h1.5M108.7 178.8h1.5M115.1 176.1h1.5M117.4 175.9h1.5M115.3 179.5h1.5M127.1 174.9h1.5M117.8 184.8h1.5M115.6 182.7h1.5M117.1 179.3h1.5M118.3 180.5h1.5M117.2 178.5h1.5M117.7 180.4h1.5M119.4 178.3h1.5M120.1 176.3h1.5M121.1 174.5h1.5M121.0 170.5h1.5M122.2 177.0h1.5M116.2 179.8h1.5M117.5 186.7h1.5M120.4 178.5h1.5M108.8 180.1h1.5M110.9 184.7h1.5M119.6 174.3h1.5M117.9 175.7h1.5M110.7 181.3h1.5M117.0 179.7h1.5M121.7 172.1h1.5M117.6 176.3h1.5M119.0 180.0h1.5M116.3 179.4h1.5M111.1 177.7h1.5M119.3 179.2h1.5M123.9 177.0h1.5M107.8 178.2h1.5M115.5 179.0h1.5M123.3 176.7h1.5M128.1 171.4h1.5M112.6 179.9h1.5M129.8 170.0h1.5M123.4 173.0h1.5M119.8 183.1h1.5M122.0 176.4h1.5M119.8 176.0h1.5M116.4 182.4h1.5M114.9 180.2h1.5M125.4 180.4h1.5M110.8 179.5h1.5M112.1 143.1h1.5M115.6 169.6h1.5M99.9 167.4h1.5M146.4 163.4h1.5M115.4 115.5h1.5M141.6 142.9h1.5M151.5 121.1h1.5M112.9 166.9h1.5M123.7 129.3h1.5M113.7 119.2h1.5M102.8 165.9h1.5M104.1 110.0h1.5M137.6 173.9h1.5M113.2 154.9h1.5M123.4 130.1h1.5M122.9 118.9h1.5M123.9 155.7h1.5M127.1 100.8h1.5M120.6 135.2h1.5M139.4 150.2h1.5M116.9 143.9h1.5M115.5 157.7h1.5M138.3 131.4h1.5M137.7 128.4h1.5M129.8 125.8h1.5M137.3 159.9h1.5M144.3 93.4h1.5M147.6 100.8h1.5M144.6 99.5h1.5M146.6 100.0h1.5M130.7 125.5h1.5M125.6 131.3h1.5M138.5 93.2h1.5M155.8 130.2h1.5M153.2 126.5h1.5M158.8 109.1h1.5M148.4 110.0h1.5M149.0 107.0h1.5M146.1 77.9h1.5M150.5 91.9h1.5M152.0 139.7h1.5M145.9 117.1h1.5M141.9 91.0h1.5M142.2 131.8h1.5M143.3 136.9h1.5M152.1 118.9h1.5M140.4 66.6h1.5M164.0 134.2h1.5M155.3 97.2h1.5M121.9 108.7h1.5M169.1 142.3h1.5M148.5 64.2h1.5M175.2 136.8h1.5M151.1 107.7h1.5M130.6 106.2h1.5M162.9 97.1h1.5M150.8 124.3h1.5M130.6 120.2h1.5M138.4 116.7h1.5M156.0 92.6h1.5M150.1 111.8h1.5M155.5 102.5h1.5M168.6 107.6h1.5M153.7 126.5h1.5M148.3 90.7h1.5M144.9 88.0h1.5M164.7 113.2h1.5M138.9 138.2h1.5M167.2 101.7h1.5M133.3 108.9h1.5M143.5 122.9h1.5M123.6 84.4h1.5M158.3 112.1h1.5M138.7 115.0h1.5M151.6 134.6h1.5M124.5 110.2h1.5M161.1 94.6h1.5M147.2 111.7h1.5M150.9 126.5h1.5M160.1 129.4h1.5M156.6 145.3h1.5M142.3 123.6h1.5M143.0 103.6h1.5M124.2 104.0h1.5M145.8 104.8h1.5M127.1 84.1h1.5M139.1 88.3h1.5M150.6 124.7h1.5M184.9 117.9h1.5M144.0 117.4h1.5M142.1 130.0h1.5M119.7 104.3h1.5M134.1 108.9h1.5M153.6 91.1h1.5M145.8 122.2h1.5M146.5 86.3h1.5M140.6 127.1h1.5M149.3 120.5h1.5M142.7 133.3h1.5M149.6 135.5h1.5M175.5 125.3h1.5M161.3 106.6h1.5M157.1 105.2h1.5M125.1 69.7h1.5M140.8 133.3h1.5M136.1 121.3h1.5M155.4 89.2h1.5M161.4 111.6h1.5M118.6 90.6h1.5M130.8 112.4h1.5M135.4 112.7h1.5M173.3 75.3h1.5M159.5 87.4h1.5M145.8 114.5h1.5M169.3 87.2h1.5M154.7 81.1h1.5M159.0 92.3h1.5M164.5 106.5h1.5M177.9 77.5h1.5M158.5 111.3h1.5M154.2 83.9h1.5M161.2 81.7h1.5M168.7 88.4h1.5M172.8 77.0h1.5M152.6 97.1h1.5M158.2 95.2h1.5M112.5 66.3h1.5M167.0 147.5h1.5M105.2 43.8h1.5M80.8 29.3h1.5M135.3 103.5h1.5M109.3 190.5h1.5M114.1 49.4h1.5M116.4 172.2h1.5M103.4 131.7h1.5M66.6 198.8h1.5M59.5 84.2h1.5M67.1 48.6h1.5M106.8 199.1h1.5M152.5 31.4h1.5M164.5 90.5h1.5M70.8 38.9h1.5M87.5 103.5h1.5M155.6 153.8h1.5M89.8 34.5h1.5M124.8 157.4h1.5M62.8 201.0h1.5M140.8 141.6h1.5M86.8 27.2h1.5M107.6 26.5h1.5M80.7 26.5h1.5M86.3 27.1h1.5" stroke="#000" stroke-width="1.5" stroke-opacity="0.3" fill="none"/><path d="M70.0 191.5h1.5M70.9 189.6h1.5M61.7 196.3h1.5M65.0 188.8h1.5M64.1 209.3h1.5M70.4 191.3h1.5M69.0 190.6h1.5M62.3 206.8h1.5M67.5 198.1h1.5M65.2 200.9h1.5M62.0 196.6h1.5M76.1 188.0h1.5M69.1 196.0h1.5M72.1 185.7h1.5M75.1 197.3h1.5M65.5 187.2h1.5M62.3 206.2h1.5M62.4 196.5h1.5M61.6 193.7h1.5M59.6 205.1h1.5M72.6 189.4h1.5M70.7 181.5h1.5M64.9 200.2h1.5M61.0 190.2h1.5M71.2 188.3h1.5M71.5 190.2h1.5M72.4 196.6h1.5M69.2 182.2h1.5M66.9 199.7h1.5M65.2 196.8h1.5M65.2 201.0h1.5M69.1 193.0h1.5M71.2 182.6h1.5M63.8 207.0h1.5M68.2 200.7h1.5M72.6 192.5h1.5M69.2 192.9h1.5M66.3 196.7h1.5M62.0 194.7h1.5M73.1 199.2h1.5M70.9 185.3h1.5M66.4 185.0h1.5M64.1 195.1h1.5M71.0 190.7h1.5M72.1 190.7h1.5M66.4 191.7h1.5M62.9 204.2h1.5M63.9 200.1h1.5M61.6 203.4h1.5M61.2 198.9h1.5M67.6 190.8h1.5M76.7 190.4h1.5M67.2 195.2h1.5M61.2 202.8h1.5M63.4 195.3h1.5M73.5 189.6h1.5M67.6 187.7h1.5M72.6 180.3h1.5M68.8 187.8h1.5M68.4 205.2h1.5M64.3 191.2h1.5M74.8 186.0h1.5M60.8 212.8h1.5M64.1 185.6h1.5M60.4 193.8h1.5M69.2 204.5h1.5M67.4 187.1h1.5M60.5 199.6h1.5M76.3 181.5h1.5M75.7 188.9h1.5M73.0 197.6h1.5M68.4 188.9h1.5M67.5 191.4h1.5M67.4 194.1h1.5M67.2 199.0h1.5M65.5 205.3h1.5M66.3 204.8h1.5M67.1 198.1h1.5M65.5 198.0h1.5M63.4 200.5h1.5M69.3 191.6h1.5M62.3 203.8h1.5M67.7 193.3h1.5M66.6 194.9h1.5M62.4 201.3h1.5M62.5 199.9h1.5M68.7 206.2h1.5M62.0 204.1h1.5M65.1 200.1h1.5M63.0 200.2h1.5M66.9 199.5h1.5M62.0 205.5h1.5M66.7 198.6h1.5M64.5 203.6h1.5M63.2 196.9h1.5M63.6 203.5h1.5M62.6 199.9h1.5M64.7 199.9h1.5M62.3 201.8h1.5M66.4 196.9h1.5M115.1 151.1h1.5M89.5 162.5h1.5M106.6 167.9h1.5M67.5 200.1h1.5M74.2 200.1h1.5M95.0 189.0h1.5M89.9 176.0h1.5M77.6 180.6h1.5M109.7 151.2h1.5M67.2 174.1h1.5M88.7 181.6h1.5M80.8 179.8h1.5M104.8 170.7h1.5M87.9 184.0h1.5M81.3 184.6h1.5M77.5 177.0h1.5M98.5 190.3h1.5M69.4 201.6h1.5M72.8 171.2h1.5M78.4 193.4h1.5M116.5 140.7h1.5M80.1 174.2h1.5M65.3 187.9h1.5M64.3 181.0h1.5M77.6 189.7h1.5M94.0 173.0h1.5M97.5 171.5h1.5M72.5 194.2h1.5M90.5 187.5h1.5M71.4 179.3h1.5M77.8 176.9h1.5M95.1 174.3h1.5M83.2 184.9h1.5M75.6 184.0h1.5M102.3 178.2h1.5M101.0 196.6h1.5M83.1 197.8h1.5M87.3 193.2h1.5M81.0 172.6h1.5M67.5 171.8h1.5M66.9 185.0h1.5M75.7 184.2h1.5M79.4 180.3h1.5M78.5 171.9h1.5M73.4 162.1h1.5M83.2 198.2h1.5M105.1 172.7h1.5M80.2 175.6h1.5M83.4 185.6h1.5M78.5 171.5h1.5M76.5 188.4h1.5M88.8 190.4h1.5M81.0 172.7h1.5M84.0 171.4h1.5M89.3 158.4h1.5M97.8 161.6h1.5M102.3 177.4h1.5M98.4 168.9h1.5M84.0 179.5h1.5M85.0 175.6h1.5M73.9 177.9h1.5M114.5 142.4h1.5M82.5 181.6h1.5M93.3 176.4h1.5M90.4 174.0h1.5M93.8 183.2h1.5M72.7 178.8h1.5M87.0 177.2h1.5M91.6 184.9h1.5M86.8 189.6h1.5M70.5 206.3h1.5M100.7 181.8h1.5M73.8 174.1h1.5M73.8 198.5h1.5M74.6 197.0h1.5M128.3 171.4h1.5M80.0 186.1h1.5M92.1 187.8h1.5M83.1 194.0h1.5M91.8 168.9h1.5M95.2 181.8h1.5M107.1 184.6h1.5M99.9 151.2h1.5M70.3 187.1h1.5M58.5 181.0h1.5M78.5 192.7h1.5M103.0 185.7h1.5M89.7 124.7h1.5M61.7 163.0h1.5M89.9 69.8h1.5M94.0 127.1h1.5M68.9 140.5h1.5M74.7 146.3h1.5M90.3 101.0h1.5M91.2 138.3h1.5M64.3 102.7h1.5M89.3 168.3h1.5M99.5 101.2h1.5M85.7 149.0h1.5M84.4 124.9h1.5M79.3 181.0h1.5M66.5 108.7h1.5M68.3 146.7h1.5M67.1 125.1h1.5M100.4 106.7h1.5M92.2 102.5h1.5M80.3 146.5h1.5M95.9 120.8h1.5M75.7 132.9h1.5M90.7 186.4h1.5M63.1 147.9h1.5M102.5 143.8h1.5M93.8 141.1h1.5M72.4 157.0h1.5M90.7 118.0h1.5M71.4 159.1h1.5M74.6 165.2h1.5M65.1 157.1h1.5M95.7 155.3h1.5M87.8 136.7h1.5M93.2 143.8h1.5M77.5 165.5h1.5M65.6 167.8h1.5M82.2 142.5h1.5M108.5 163.6h1.5M92.2 134.5h1.5M78.7 99.8h1.5M101.2 162.7h1.5M63.0 177.4h1.5M101.8 185.3h1.5M77.8 145.0h1.5M115.3 183.2h1.5M114.0 169.7h1.5M119.4 171.2h1.5M116.1 175.0h1.5M104.4 179.9h1.5M109.1 185.5h1.5M120.7 174.8h1.5M107.1 183.5h1.5M118.4 174.5h1.5M122.6 176.2h1.5M111.6 176.7h1.5M114.3 170.3h1.5M126.3 175.8h1.5M124.7 175.6h1.5M121.6 177.4h1.5M118.6 189.6h1.5M133.1 169.4h1.5M121.4 181.9h1.5M109.4 187.9h1.5M106.3 194.0h1.5M118.1 173.6h1.5M105.8 193.2h1.5M133.3 171.1h1.5M123.3 170.3h1.5M121.2 159.5h1.5M104.2 183.6h1.5M120.6 157.4h1.5M103.6 173.2h1.5M115.9 183.8h1.5M123.0 179.0h1.5M122.5 183.7h1.5M110.8 182.2h1.5M106.4 178.8h1.5M108.2 172.1h1.5M128.4 170.0h1.5M134.8 176.1h1.5M124.0 183.0h1.5M105.7 192.1h1.5M120.5 175.0h1.5M128.2 178.8h1.5M136.4 160.5h1.5M115.7 177.5h1.5M119.7 171.5h1.5M111.4 177.8h1.5M97.7 194.1h1.5M113.5 187.3h1.5M118.5 182.3h1.5M114.0 173.3h1.5M120.4 181.7h1.5M126.3 167.6h1.5M118.5 176.1h1.5M111.1 182.9h1.5M125.8 168.3h1.5M125.0 180.3h1.5M116.7 168.0h1.5M118.9 185.9h1.5M132.7 166.2h1.5M106.2 194.4h1.5M104.8 196.1h1.5M128.5 176.8h1.5M114.7 176.5h1.5M107.2 185.7h1.5M122.1 174.9h1.5M107.2 194.3h1.5M130.8 169.2h1.5M103.9 187.7h1.5M121.6 170.5h1.5M131.3 173.3h1.5M123.6 170.1h1.5M122.1 173.1h1.5M119.2 172.9h1.5M125.1 174.6h1.5M105.7 191.5h1.5M122.3 175.2h1.5M109.6 180.3h1.5M115.8 173.8h1.5M122.8 167.3h1.5M117.6 171.6h1.5M114.2 188.8h1.5M124.4 172.2h1.5M139.8 171.0h1.5M122.0 174.5h1.5M135.8 174.8h1.5M113.7 190.0h1.5M110.4 186.8h1.5M125.6 170.6h1.5M145.3 166.8h1.5M119.3 181.0h1.5M118.8 173.1h1.5M127.4 177.3h1.5M121.5 168.2h1.5M134.7 160.9h1.5M117.2 182.0h1.5M117.0 182.3h1.5M107.3 182.4h1.5M103.4 194.6h1.5M121.0 183.5h1.5M123.5 179.5h1.5M125.5 173.0h1.5M108.8 181.7h1.5M115.6 170.5h1.5M103.2 193.8h1.5M115.1 185.2h1.5M108.7 186.9h1.5M108.9 182.4h1.5M133.2 177.7h1.5M112.5 185.1h1.5M114.2 172.4h1.5M105.7 173.0h1.5M107.0 191.0h1.5M118.8 180.3h1.5M124.1 173.5h1.5M137.8 184.9h1.5M107.3 177.6h1.5M114.0 173.5h1.5M116.6 173.8h1.5M118.5 172.4h1.5M125.4 176.0h1.5M111.0 187.8h1.5M117.5 177.3h1.5M125.6 183.8h1.5M108.3 193.9h1.5M121.8 166.0h1.5M128.0 175.7h1.5M115.8 190.0h1.5M116.0 166.3h1.5M129.1 168.2h1.5M123.3 180.3h1.5M119.0 182.7h1.5M121.6 165.8h1.5M131.3 175.7h1.5M105.7 186.9h1.5M104.4 177.8h1.5M128.1 167.6h1.5M127.4 178.0h1.5M115.0 178.6h1.5M101.7 187.4h1.5M116.9 177.2h1.5M121.7 187.2h1.5M127.7 176.5h1.5M114.6 181.5h1.5M118.1 167.0h1.5M114.4 177.5h1.5M92.0 196.1h1.5M125.6 175.6h1.5M131.1 179.8h1.5M137.1 163.0h1.5M121.1 178.7h1.5M115.5 178.1h1.5M119.9 186.2h1.5M123.8 179.0h1.5M124.3 179.8h1.5M117.7 183.6h1.5M120.0 173.0h1.5M116.1 184.0h1.5M127.6 175.2h1.5M113.4 183.2h1.5M118.4 180.9h1.5M119.8 182.6h1.5M117.5 178.9h1.5M109.1 179.2h1.5M117.4 171.9h1.5M115.2 182.3h1.5M121.3 185.0h1.5M129.0 173.0h1.5M119.5 181.1h1.5M119.9 173.7h1.5M120.7 173.7h1.5M116.8 175.2h1.5M118.8 178.9h1.5M115.4 178.4h1.5M115.2 176.6h1.5M112.6 184.6h1.5M118.8 176.6h1.5M119.7 179.6h1.5M120.4 176.1h1.5M123.3 184.0h1.5M122.8 175.7h1.5M122.1 172.2h1.5M118.5 179.2h1.5M118.0 177.7h1.5M116.0 181.6h1.5M114.3 191.1h1.5M119.8 176.6h1.5M120.5 172.3h1.5M119.3 179.2h1.5M115.7 175.8h1.5M116.0 177.4h1.5M126.6 180.5h1.5M122.5 177.5h1.5M112.5 174.1h1.5M116.6 179.3h1.5M121.5 181.1h1.5M118.4 180.9h1.5M117.2 179.4h1.5M137.6 174.5h1.5M109.7 148.8h1.5M126.0 125.3h1.5M103.8 117.2h1.5M127.9 152.5h1.5M137.0 160.7h1.5M135.8 134.7h1.5M148.9 156.9h1.5M137.4 148.1h1.5M108.3 171.4h1.5M124.7 157.3h1.5M128.5 152.8h1.5M137.4 143.7h1.5M131.6 155.8h1.5M138.8 142.8h1.5M124.7 169.8h1.5M117.1 143.1h1.5M125.4 172.9h1.5M124.7 178.8h1.5M138.1 178.1h1.5M92.5 153.6h1.5M133.9 141.5h1.5M142.6 163.0h1.5M116.5 169.5h1.5M119.4 117.3h1.5M134.9 132.3h1.5M149.5 123.0h1.5M143.1 107.5h1.5M160.3 99.6h1.5M156.2 97.7h1.5M138.3 124.2h1.5M124.8 107.4h1.5M143.8 97.9h1.5M146.6 97.3h1.5M142.7 100.9h1.5M161.9 130.7h1.5M133.4 121.9h1.5M143.1 103.9h1.5M139.3 110.0h1.5M158.1 94.4h1.5M123.7 110.8h1.5M150.8 73.2h1.5M144.3 91.3h1.5M146.0 68.9h1.5M144.9 120.0h1.5M151.8 102.6h1.5M134.0 112.9h1.5M145.6 104.9h1.5M141.3 126.5h1.5M148.1 99.0h1.5M157.0 113.0h1.5M150.0 131.6h1.5M156.7 110.1h1.5M133.3 147.5h1.5M142.7 105.3h1.5M131.2 135.7h1.5M154.5 145.0h1.5M141.1 137.1h1.5M180.2 106.8h1.5M143.1 110.4h1.5M152.6 110.4h1.5M143.5 63.0h1.5M158.3 126.3h1.5M153.6 139.6h1.5M137.5 111.2h1.5M141.3 101.7h1.5M140.4 93.2h1.5M144.5 113.4h1.5M158.0 98.4h1.5M159.3 135.2h1.5M161.9 102.6h1.5M132.8 93.2h1.5M155.1 118.1h1.5M137.8 131.3h1.5M159.4 108.6h1.5M155.2 93.5h1.5M157.6 97.0h1.5M164.2 127.6h1.5M138.1 121.4h1.5M165.2 109.8h1.5M142.3 87.9h1.5M151.9 103.9h1.5M150.7 95.5h1.5M138.7 123.9h1.5M146.6 108.9h1.5M148.4 110.1h1.5M143.3 109.4h1.5M137.2 103.7h1.5M148.5 110.1h1.5M150.0 105.8h1.5M146.7 97.6h1.5M154.2 95.3h1.5M152.9 117.9h1.5M141.5 110.4h1.5M133.4 104.2h1.5M135.7 78.0h1.5M132.9 89.0h1.5M143.6 111.2h1.5M132.3 120.0h1.5M139.8 100.8h1.5M157.0 114.1h1.5M148.9 93.8h1.5M140.1 90.6h1.5M133.8 96.2h1.5M166.3 129.9h1.5M147.3 95.9h1.5M144.6 101.3h1.5M139.6 97.3h1.5M132.2 100.3h1.5M129.6 112.5h1.5M147.1 133.2h1.5M157.3 87.0h1.5M152.4 74.7h1.5M158.8 91.6h1.5M170.3 87.3h1.5M168.2 97.9h1.5M160.0 93.6h1.5M145.3 99.8h1.5M142.7 92.0h1.5M151.4 102.7h1.5M150.4 93.6h1.5M146.1 96.2h1.5M168.2 94.7h1.5M146.9 102.2h1.5M156.2 91.3h1.5M166.5 99.3h1.5M151.2 98.2h1.5M101.2 159.9h1.5M135.0 170.4h1.5M92.5 69.9h1.5M110.4 62.0h1.5M92.7 60.4h1.5M87.7 170.4h1.5M79.1 32.0h1.5M79.2 208.6h1.5M101.3 83.8h1.5M67.3 83.5h1.5M137.2 43.2h1.5M66.0 143.4h1.5M162.1 88.9h1.5M148.0 165.7h1.5M80.1 149.1h1.5M241.5 81.6h1.5M194.6 121.2h1.5M207.0 81.3h1.5M66.0 26.5h1.5M115.7 27.3h1.5M85.8 26.7h1.5M112.8 26.7h1.5" stroke="#000" stroke-width="1.5" stroke-opacity="0.3" fill="none"/><path d="M60.7 191.9h1.5M70.1 198.7h1.5M75.2 190.1h1.5M62.9 191.5h1.5M65.0 188.3h1.5M70.5 198.0h1.5M68.8 187.9h1.5M70.3 209.0h1.5M68.5 193.1h1.5M75.3 188.7h1.5M75.1 175.9h1.5M72.2 189.5h1.5M74.9 192.0h1.5M61.3 194.9h1.5M75.9 183.2h1.5M63.7 194.6h1.5M65.7 195.8h1.5M67.7 200.6h1.5M77.5 184.5h1.5M67.2 193.6h1.5M67.7 186.5h1.5M73.6 182.9h1.5M64.7 199.4h1.5M70.8 185.9h1.5M67.0 194.6h1.5M67.6 192.2h1.5M61.1 206.2h1.5M67.5 193.5h1.5M65.3 202.3h1.5M71.2 198.7h1.5M71.6 185.7h1.5M67.7 186.0h1.5M74.9 182.6h1.5M68.3 191.6h1.5M64.9 199.2h1.5M71.8 183.3h1.5M75.2 192.7h1.5M70.5 188.3h1.5M62.2 207.6h1.5M71.5 193.0h1.5M71.8 185.3h1.5M67.4 190.0h1.5M75.1 184.6h1.5M57.2 203.6h1.5M62.6 203.3h1.5M71.6 186.9h1.5M69.8 189.8h1.5M71.1 184.2h1.5M65.2 198.2h1.5M74.5 196.1h1.5M69.6 186.5h1.5M72.6 192.7h1.5M62.8 201.1h1.5M68.4 204.6h1.5M70.7 198.2h1.5M65.4 197.6h1.5M67.1 185.7h1.5M60.9 201.6h1.5M68.2 199.4h1.5M68.9 196.0h1.5M70.2 200.2h1.5M61.2 196.3h1.5M60.8 196.6h1.5M68.7 183.2h1.5M66.3 195.9h1.5M66.9 191.4h1.5M61.5 197.5h1.5M64.8 199.6h1.5M65.7 195.1h1.5M61.9 204.7h1.5M65.7 203.2h1.5M65.6 197.3h1.5M58.2 204.8h1.5M66.2 201.8h1.5M64.0 207.3h1.5M63.6 203.8h1.5M64.2 204.4h1.5M67.5 199.3h1.5M65.4 197.6h1.5M66.5 196.8h1.5M67.2 202.7h1.5M67.7 196.8h1.5M68.0 199.4h1.5M66.6 201.3h1.5M63.2 201.7h1.5M65.1 200.6h1.5M66.8 194.4h1.5M69.2 197.0h1.5M61.4 198.4h1.5M67.2 197.8h1.5M66.5 196.0h1.5M66.7 198.3h1.5M61.4 203.7h1.5M60.9 204.9h1.5M76.6 189.3h1.5M93.1 185.0h1.5M106.1 193.3h1.5M99.7 161.9h1.5M97.3 171.0h1.5M105.3 174.0h1.5M85.8 179.7h1.5M89.6 186.6h1.5M100.6 165.9h1.5M77.4 185.9h1.5M98.3 171.4h1.5M72.9 187.3h1.5M66.5 199.4h1.5M75.2 200.3h1.5M99.3 163.1h1.5M98.2 196.6h1.5M113.1 190.5h1.5M84.2 172.3h1.5M95.1 175.2h1.5M93.0 178.8h1.5M88.5 184.8h1.5M121.3 179.7h1.5M72.5 177.3h1.5M105.3 163.9h1.5M60.8 180.4h1.5M100.7 177.7h1.5M78.5 210.0h1.5M79.9 195.3h1.5M80.4 163.4h1.5M79.3 183.9h1.5M98.3 183.7h1.5M90.4 182.7h1.5M63.8 177.6h1.5M80.5 183.7h1.5M57.8 184.0h1.5M77.9 192.6h1.5M64.0 158.8h1.5M86.0 181.8h1.5M88.8 171.6h1.5M84.7 193.0h1.5M106.2 180.8h1.5M82.1 167.4h1.5M73.4 185.8h1.5M113.5 161.9h1.5M79.4 175.4h1.5M68.9 181.7h1.5M88.9 182.3h1.5M73.5 180.7h1.5M73.0 191.5h1.5M98.0 183.6h1.5M86.4 180.0h1.5M89.6 192.3h1.5M72.5 188.4h1.5M100.8 154.8h1.5M82.2 186.2h1.5M96.8 171.8h1.5M96.4 177.8h1.5M84.8 183.3h1.5M81.1 191.7h1.5M78.5 185.5h1.5M76.4 181.3h1.5M82.6 175.9h1.5M89.7 169.4h1.5M85.3 177.6h1.5M99.9 170.1h1.5M108.0 188.5h1.5M78.6 197.1h1.5M63.3 192.6h1.5M97.6 187.0h1.5M63.9 176.8h1.5M109.9 170.0h1.5M89.8 177.8h1.5M88.9 190.9h1.5M90.6 189.2h1.5M79.3 172.4h1.5M66.2 178.8h1.5M98.8 180.1h1.5M95.3 176.2h1.5M79.5 188.7h1.5M71.8 191.3h1.5M70.5 177.6h1.5M107.4 166.9h1.5M103.6 179.1h1.5M88.8 182.3h1.5M114.6 110.3h1.5M91.6 126.8h1.5M87.9 133.0h1.5M95.4 79.2h1.5M81.4 165.2h1.5M63.2 124.8h1.5M92.5 112.3h1.5M76.5 104.9h1.5M77.9 142.4h1.5M76.4 137.9h1.5M83.5 105.3h1.5M73.0 153.3h1.5M92.3 147.1h1.5M73.7 166.6h1.5M69.2 135.6h1.5M86.8 99.8h1.5M77.5 108.9h1.5M73.5 158.2h1.5M65.4 98.1h1.5M90.2 132.0h1.5M67.2 137.1h1.5M92.4 133.7h1.5M68.8 135.6h1.5M89.3 126.5h1.5M77.7 143.7h1.5M80.5 157.3h1.5M93.7 139.8h1.5M89.7 151.3h1.5M89.0 141.8h1.5M84.3 148.1h1.5M116.3 151.9h1.5M78.0 155.5h1.5M90.7 161.8h1.5M112.2 122.2h1.5M94.1 135.9h1.5M85.3 142.9h1.5M102.6 110.2h1.5M83.9 147.4h1.5M65.5 82.8h1.5M87.1 182.1h1.5M85.1 104.2h1.5M92.9 147.1h1.5M95.5 117.7h1.5M117.7 167.2h1.5M131.2 176.6h1.5M112.0 184.4h1.5M112.9 172.3h1.5M122.6 177.5h1.5M123.9 173.4h1.5M122.4 175.7h1.5M119.5 170.4h1.5M143.6 170.1h1.5M127.1 178.1h1.5M124.7 174.2h1.5M103.4 173.9h1.5M108.8 187.2h1.5M138.1 165.9h1.5M117.3 169.0h1.5M128.2 177.8h1.5M120.7 175.9h1.5M123.6 178.6h1.5M108.1 172.7h1.5M117.4 174.1h1.5M115.4 185.6h1.5M107.3 178.8h1.5M115.8 180.8h1.5M126.3 183.5h1.5M112.5 176.1h1.5M122.0 188.3h1.5M122.4 170.0h1.5M117.7 182.5h1.5M115.7 186.4h1.5M122.2 177.7h1.5M109.9 193.2h1.5M115.9 176.3h1.5M116.2 174.9h1.5M123.6 171.0h1.5M116.4 192.0h1.5M133.2 172.8h1.5M114.4 178.3h1.5M106.7 172.3h1.5M112.1 180.0h1.5M113.6 180.3h1.5M103.1 188.3h1.5M120.9 159.7h1.5M120.9 161.2h1.5M127.2 174.9h1.5M115.8 176.7h1.5M106.3 182.1h1.5M108.2 185.4h1.5M123.8 170.3h1.5M106.1 171.1h1.5M117.6 178.3h1.5M115.9 183.4h1.5M123.1 181.0h1.5M122.1 182.8h1.5M113.5 183.7h1.5M116.7 173.3h1.5M126.3 179.0h1.5M121.6 168.5h1.5M115.9 175.8h1.5M133.9 152.2h1.5M115.1 178.7h1.5M112.6 195.6h1.5M109.7 182.2h1.5M118.7 188.0h1.5M122.1 176.2h1.5M119.9 175.0h1.5M130.7 158.6h1.5M119.1 173.8h1.5M122.5 171.1h1.5M98.4 194.1h1.5M117.7 180.5h1.5M126.4 174.3h1.5M115.7 176.9h1.5M110.8 177.4h1.5M97.4 195.6h1.5M122.1 179.4h1.5M137.1 161.9h1.5M114.3 176.7h1.5M121.1 160.5h1.5M119.7 174.5h1.5M115.6 184.5h1.5M115.0 179.7h1.5M118.8 172.6h1.5M125.9 188.8h1.5M119.7 177.3h1.5M132.7 169.4h1.5M125.3 177.0h1.5M118.6 171.9h1.5M120.7 168.9h1.5M113.7 171.6h1.5M118.4 173.8h1.5M117.9 166.7h1.5M106.8 177.3h1.5M108.0 190.8h1.5M107.1 179.2h1.5M128.8 177.4h1.5M116.3 178.7h1.5M126.9 165.4h1.5M124.8 182.4h1.5M129.7 173.2h1.5M108.4 179.1h1.5M125.3 167.3h1.5M109.9 183.2h1.5M118.4 185.3h1.5M110.1 174.3h1.5M111.9 182.4h1.5M116.5 182.5h1.5M123.9 171.9h1.5M125.0 182.4h1.5M118.2 188.5h1.5M103.4 172.9h1.5M116.1 176.4h1.5M99.1 184.8h1.5M117.2 174.4h1.5M114.1 189.3h1.5M114.4 179.3h1.5M129.7 182.2h1.5M116.6 170.7h1.5M112.8 182.4h1.5M114.5 178.4h1.5M126.0 180.8h1.5M124.6 174.9h1.5M118.9 188.1h1.5M116.3 172.1h1.5M118.8 179.5h1.5M115.8 176.7h1.5M119.0 184.3h1.5M113.8 182.0h1.5M112.6 179.1h1.5M98.6 179.8h1.5M119.4 175.5h1.5M108.5 182.7h1.5M119.6 164.3h1.5M123.8 189.6h1.5M120.3 191.3h1.5M112.5 181.1h1.5M129.9 177.8h1.5M104.0 187.0h1.5M111.7 184.4h1.5M105.5 187.5h1.5M114.2 186.2h1.5M122.7 171.6h1.5M127.7 167.7h1.5M123.7 170.0h1.5M110.8 180.6h1.5M117.7 188.2h1.5M121.2 174.3h1.5M127.1 178.3h1.5M116.1 172.0h1.5M112.2 194.5h1.5M112.1 178.6h1.5M122.6 178.6h1.5M115.0 179.2h1.5M115.6 176.1h1.5M116.3 186.2h1.5M114.3 187.9h1.5M122.1 180.1h1.5M119.8 174.2h1.5M121.7 180.4h1.5M114.9 177.2h1.5M125.5 166.1h1.5M119.0 174.5h1.5M116.2 181.7h1.5M122.5 180.3h1.5M118.1 177.8h1.5M123.9 179.1h1.5M113.5 186.0h1.5M119.3 180.5h1.5M114.6 181.2h1.5M121.1 179.3h1.5M126.0 181.8h1.5M108.1 186.5h1.5M104.9 181.4h1.5M115.2 178.0h1.5M118.8 182.0h1.5M114.8 175.7h1.5M112.5 177.7h1.5M119.5 173.1h1.5M125.4 177.9h1.5M111.2 185.7h1.5M118.6 178.4h1.5M118.0 173.3h1.5M112.4 184.9h1.5M121.0 180.8h1.5M123.5 179.1h1.5M121.1 178.0h1.5M116.1 178.7h1.5M126.1 172.1h1.5M113.5 180.7h1.5M119.4 178.8h1.5M124.7 177.0h1.5M123.7 166.1h1.5M117.9 172.6h1.5M123.4 175.2h1.5M120.3 172.2h1.5M105.8 183.6h1.5M137.7 141.5h1.5M102.3 152.1h1.5M131.3 114.3h1.5M157.4 160.2h1.5M126.5 146.4h1.5M108.0 132.7h1.5M100.6 138.5h1.5M105.3 147.7h1.5M121.3 174.3h1.5M124.6 141.9h1.5M107.8 146.3h1.5M109.3 129.5h1.5M129.3 127.0h1.5M124.3 141.1h1.5M111.3 137.0h1.5M92.7 160.2h1.5M131.8 154.3h1.5M120.8 160.3h1.5M102.4 141.2h1.5M133.2 120.6h1.5M122.0 156.0h1.5M119.5 141.2h1.5M126.1 159.0h1.5M149.8 124.2h1.5M115.0 137.1h1.5M129.1 150.1h1.5M146.2 110.9h1.5M145.7 98.4h1.5M153.8 124.7h1.5M147.0 115.3h1.5M143.2 65.0h1.5M144.3 123.9h1.5M152.6 113.0h1.5M144.8 96.7h1.5M166.6 83.5h1.5M142.3 114.8h1.5M137.5 113.5h1.5M138.1 148.7h1.5M130.7 115.1h1.5M139.4 95.0h1.5M136.8 103.8h1.5M152.3 98.0h1.5M158.9 64.7h1.5M150.1 102.9h1.5M146.2 141.9h1.5M147.1 102.6h1.5M145.9 151.9h1.5M139.7 114.4h1.5M132.0 112.9h1.5M138.5 99.8h1.5M147.1 99.7h1.5M158.6 117.0h1.5M151.6 113.0h1.5M139.3 114.8h1.5M164.4 115.8h1.5M149.4 81.7h1.5M172.2 113.9h1.5M152.0 98.9h1.5M182.7 145.7h1.5M119.6 119.0h1.5M151.7 89.6h1.5M158.9 121.8h1.5M138.3 116.0h1.5M143.4 126.9h1.5M159.5 99.1h1.5M158.7 134.2h1.5M159.6 104.7h1.5M149.8 108.7h1.5M152.5 98.6h1.5M118.6 95.5h1.5M153.1 100.3h1.5M148.7 106.6h1.5M156.2 103.4h1.5M126.7 99.2h1.5M159.0 115.9h1.5M147.0 129.3h1.5M120.5 100.8h1.5M150.1 115.9h1.5M131.2 112.9h1.5M145.8 124.6h1.5M135.6 111.8h1.5M164.3 121.1h1.5M158.7 124.9h1.5M146.4 131.4h1.5M149.5 82.6h1.5M154.0 131.5h1.5M149.4 99.2h1.5M161.3 92.9h1.5M147.7 130.5h1.5M152.2 131.6h1.5M134.6 100.0h1.5M143.2 164.1h1.5M157.6 104.8h1.5M129.5 112.9h1.5M162.5 111.8h1.5M150.5 91.9h1.5M149.3 124.0h1.5M151.4 102.5h1.5M160.9 114.5h1.5M105.3 107.5h1.5M136.9 124.3h1.5M132.2 74.1h1.5M163.5 116.7h1.5M139.2 147.0h1.5M131.3 102.0h1.5M140.9 144.5h1.5M146.8 112.7h1.5M139.9 117.6h1.5M135.1 94.6h1.5M132.4 105.2h1.5M142.5 148.2h1.5M162.0 113.9h1.5M156.7 99.4h1.5M170.5 82.5h1.5M154.6 76.4h1.5M151.4 87.4h1.5M174.2 103.5h1.5M156.4 83.9h1.5M157.4 93.0h1.5M166.6 94.0h1.5M168.8 79.4h1.5M175.2 94.1h1.5M149.9 87.1h1.5M168.3 107.0h1.5M163.8 76.6h1.5M168.1 100.0h1.5M139.8 84.2h1.5M105.6 131.0h1.5M136.4 144.1h1.5M97.2 92.6h1.5M82.2 92.9h1.5M156.3 57.1h1.5M90.8 208.3h1.5M67.9 203.1h1.5M117.3 85.3h1.5M112.5 189.7h1.5M104.9 112.1h1.5M166.6 154.9h1.5M150.8 150.8h1.5M133.9 74.6h1.5M168.0 124.6h1.5M105.5 33.0h1.5M113.4 137.9h1.5M215.9 34.7h1.5M71.0 118.4h1.5M130.8 53.8h1.5M104.8 26.8h1.5M137.0 27.3h1.5M81.7 26.7h1.5M73.4 27.1h1.5" stroke="#000" stroke-width="1.5" stroke-opacity="0.3" fill="none"/><path d="M75.3 192.9h1.5M63.4 194.4h1.5M70.0 198.6h1.5M67.8 190.6h1.5M65.9 189.8h1.5M69.1 191.9h1.5M68.8 193.8h1.5M63.0 192.8h1.5M61.4 193.6h1.5M65.5 201.7h1.5M66.8 198.7h1.5M73.0 189.1h1.5M67.6 213.1h1.5M75.2 180.0h1.5M64.2 200.3h1.5M63.0 197.3h1.5M68.5 193.2h1.5M72.9 195.3h1.5M62.6 206.5h1.5M63.3 196.8h1.5M72.8 202.2h1.5M63.2 187.2h1.5M71.2 194.2h1.5M72.3 193.7h1.5M67.8 198.1h1.5M66.9 197.0h1.5M69.4 196.7h1.5M61.2 199.7h1.5M64.6 188.7h1.5M68.3 190.5h1.5M68.8 182.9h1.5M60.9 195.6h1.5M63.7 177.0h1.5M67.4 200.7h1.5M70.2 193.6h1.5M63.2 193.2h1.5M66.2 193.5h1.5M71.5 190.7h1.5M65.3 200.9h1.5M63.1 197.0h1.5M65.5 200.9h1.5M64.4 192.7h1.5M72.8 188.7h1.5M71.6 190.9h1.5M74.9 192.3h1.5M62.1 200.8h1.5M66.1 189.2h1.5M66.5 194.3h1.5M71.9 193.3h1.5M63.4 194.6h1.5M72.6 191.1h1.5M66.9 192.6h1.5M66.8 197.9h1.5M71.8 181.7h1.5M64.2 207.9h1.5M71.0 199.0h1.5M65.0 189.5h1.5M61.1 207.7h1.5M69.8 194.9h1.5M66.5 186.8h1.5M71.7 191.4h1.5M68.8 195.0h1.5M69.1 193.2h1.5M76.8 186.9h1.5M67.0 196.6h1.5M64.8 199.9h1.5M70.1 197.6h1.5M66.7 194.1h1.5M64.9 204.8h1.5M62.1 198.0h1.5M67.8 197.9h1.5M65.4 199.5h1.5M68.7 193.5h1.5M70.2 195.8h1.5M64.5 202.3h1.5M67.3 201.9h1.5M65.5 196.4h1.5M70.1 196.5h1.5M66.6 202.0h1.5M63.4 200.8h1.5M61.1 197.7h1.5M66.3 194.8h1.5M70.3 193.1h1.5M69.0 190.5h1.5M67.2 203.3h1.5M66.9 205.0h1.5M68.0 199.1h1.5M60.8 204.8h1.5M65.0 202.9h1.5M67.8 194.9h1.5M65.8 197.8h1.5M77.9 194.5h1.5M81.2 191.3h1.5M96.9 176.9h1.5M98.0 184.7h1.5M81.9 169.9h1.5M100.8 177.1h1.5M70.1 170.4h1.5M85.0 176.1h1.5M90.9 182.5h1.5M82.3 182.6h1.5M70.3 195.7h1.5M114.6 193.4h1.5M93.8 171.6h1.5M69.0 184.0h1.5M72.5 199.4h1.5M75.6 192.9h1.5M81.1 184.2h1.5M61.9 181.9h1.5M94.6 166.1h1.5M66.7 188.3h1.5M69.0 193.4h1.5M95.1 183.3h1.5M96.4 159.9h1.5M80.2 167.2h1.5M108.6 196.2h1.5M92.2 174.1h1.5M68.8 181.4h1.5M74.2 196.8h1.5M82.5 187.1h1.5M65.1 171.3h1.5M104.4 158.2h1.5M98.7 191.1h1.5M62.3 193.7h1.5M103.5 167.8h1.5M70.7 189.9h1.5M79.7 192.4h1.5M96.8 155.5h1.5M88.4 187.6h1.5M81.8 176.4h1.5M60.9 184.0h1.5M78.4 186.1h1.5M101.0 176.9h1.5M86.2 168.3h1.5M87.0 158.6h1.5M68.5 189.8h1.5M78.7 167.9h1.5M74.3 189.9h1.5M98.5 171.3h1.5M77.7 179.5h1.5M76.0 188.0h1.5M70.9 211.5h1.5M92.4 173.0h1.5M83.0 188.0h1.5M109.7 166.2h1.5M63.2 188.1h1.5M98.0 178.3h1.5M97.3 186.6h1.5M87.0 177.3h1.5M86.0 188.3h1.5M97.8 172.2h1.5M83.1 184.3h1.5M97.3 180.0h1.5M95.3 173.3h1.5M85.0 191.6h1.5M75.0 163.5h1.5M94.9 173.3h1.5M71.2 193.6h1.5M96.1 174.7h1.5M68.5 184.8h1.5M93.5 175.1h1.5M67.8 190.1h1.5M87.5 172.5h1.5M80.7 178.5h1.5M72.6 185.2h1.5M99.9 182.7h1.5M94.8 165.3h1.5M82.2 172.7h1.5M87.1 188.6h1.5M98.6 173.6h1.5M96.2 173.8h1.5M91.8 176.6h1.5M114.0 166.9h1.5M62.5 188.3h1.5M81.3 199.7h1.5M70.5 195.9h1.5M77.8 182.7h1.5M70.9 167.8h1.5M83.7 114.8h1.5M95.2 144.7h1.5M76.2 125.1h1.5M103.9 151.8h1.5M103.4 138.6h1.5M98.4 117.6h1.5M91.1 139.0h1.5M87.7 115.8h1.5M76.5 150.1h1.5M66.9 135.5h1.5M90.3 125.4h1.5M91.5 179.0h1.5M58.3 165.4h1.5M94.2 93.9h1.5M73.2 154.8h1.5M89.0 120.2h1.5M68.8 185.6h1.5M82.8 132.5h1.5M92.6 160.7h1.5M64.0 155.8h1.5M80.0 144.9h1.5M80.4 105.8h1.5M110.3 144.3h1.5M82.1 128.1h1.5M60.8 140.5h1.5M110.1 160.4h1.5M86.1 109.8h1.5M103.1 119.8h1.5M89.4 114.2h1.5M76.3 85.0h1.5M86.4 148.5h1.5M77.4 151.1h1.5M77.6 148.2h1.5M96.7 162.4h1.5M100.4 169.4h1.5M75.0 115.8h1.5M78.8 160.9h1.5M92.1 138.6h1.5M57.0 148.6h1.5M86.5 113.3h1.5M79.0 162.1h1.5M111.4 180.7h1.5M94.7 183.4h1.5M127.0 168.4h1.5M111.2 179.4h1.5M116.5 177.7h1.5M120.9 180.3h1.5M120.2 165.0h1.5M141.6 175.0h1.5M104.0 177.6h1.5M137.4 163.5h1.5M114.2 160.5h1.5M116.8 178.3h1.5M128.6 184.1h1.5M118.3 180.8h1.5M122.3 175.2h1.5M122.0 164.3h1.5M116.3 181.1h1.5M120.2 181.7h1.5M105.3 183.5h1.5M115.2 173.2h1.5M106.6 191.4h1.5M131.2 181.3h1.5M125.0 160.0h1.5M122.6 179.9h1.5M119.0 177.3h1.5M104.1 181.3h1.5M119.1 171.3h1.5M107.6 182.8h1.5M134.3 179.2h1.5M124.0 165.9h1.5M114.1 193.0h1.5M122.8 181.6h1.5M126.0 163.4h1.5M119.5 172.4h1.5M109.8 183.7h1.5M115.4 179.2h1.5M121.1 191.4h1.5M123.1 177.5h1.5M121.0 163.1h1.5M119.1 176.4h1.5M133.5 171.5h1.5M126.6 181.3h1.5M125.5 181.6h1.5M125.7 160.5h1.5M123.2 177.8h1.5M121.6 169.8h1.5M110.2 177.6h1.5M114.4 173.8h1.5M117.6 180.4h1.5M134.2 156.0h1.5M128.8 163.2h1.5M130.3 168.5h1.5M112.9 191.1h1.5M107.8 169.6h1.5M125.9 183.5h1.5M131.2 170.6h1.5M107.3 190.7h1.5M118.1 181.0h1.5M126.7 175.0h1.5M128.2 168.3h1.5M124.4 182.6h1.5M113.6 183.6h1.5M118.3 184.3h1.5M122.3 171.5h1.5M134.2 154.1h1.5M124.3 172.1h1.5M121.9 174.8h1.5M125.1 171.5h1.5M110.5 196.9h1.5M104.9 179.6h1.5M114.0 183.8h1.5M132.7 168.8h1.5M110.9 185.9h1.5M115.6 183.5h1.5M128.7 178.1h1.5M128.8 174.3h1.5M103.9 184.4h1.5M116.8 174.8h1.5M112.5 180.0h1.5M113.4 186.2h1.5M125.2 161.7h1.5M115.5 183.1h1.5M112.0 183.6h1.5M115.1 173.9h1.5M105.8 190.5h1.5M115.4 182.6h1.5M118.4 175.6h1.5M124.8 175.9h1.5M106.7 178.9h1.5M125.2 160.6h1.5M118.6 176.4h1.5M124.4 175.9h1.5M109.7 164.1h1.5M118.0 180.2h1.5M112.7 191.7h1.5M123.2 177.3h1.5M120.7 176.5h1.5M130.9 169.8h1.5M122.1 169.0h1.5M119.4 182.2h1.5M119.8 178.1h1.5M111.9 191.3h1.5M108.1 196.1h1.5M131.7 181.1h1.5M121.3 188.0h1.5M118.6 164.1h1.5M120.1 168.9h1.5M128.2 170.6h1.5M110.2 178.3h1.5M112.2 172.7h1.5M118.3 169.8h1.5M126.4 169.8h1.5M107.8 175.7h1.5M120.2 181.0h1.5M129.8 177.5h1.5M120.4 182.7h1.5M128.5 183.2h1.5M104.3 179.0h1.5M128.9 184.1h1.5M123.0 184.5h1.5M116.4 180.9h1.5M134.7 174.2h1.5M113.4 177.8h1.5M122.0 178.4h1.5M116.1 188.0h1.5M133.6 159.7h1.5M132.8 163.7h1.5M109.9 178.0h1.5M129.2 173.6h1.5M116.4 172.0h1.5M124.4 169.8h1.5M119.5 178.9h1.5M103.1 185.0h1.5M107.5 182.7h1.5M115.1 173.9h1.5M112.8 179.1h1.5M89.6 193.2h1.5M126.1 165.5h1.5M113.9 179.4h1.5M125.5 188.9h1.5M121.2 181.8h1.5M124.6 173.3h1.5M117.0 182.4h1.5M138.3 176.0h1.5M101.7 182.5h1.5M112.1 173.1h1.5M126.4 178.9h1.5M124.6 178.4h1.5M128.1 160.8h1.5M120.4 170.9h1.5M114.2 182.2h1.5M111.8 180.6h1.5M119.1 181.2h1.5M121.4 179.4h1.5M110.0 179.4h1.5M119.0 182.9h1.5M119.4 175.6h1.5M120.2 176.1h1.5M126.1 174.3h1.5M119.6 175.5h1.5M117.6 182.3h1.5M111.6 180.5h1.5M122.3 172.1h1.5M115.3 181.2h1.5M117.0 184.0h1.5M120.5 173.9h1.5M121.0 175.5h1.5M114.2 184.2h1.5M116.4 181.1h1.5M114.3 185.5h1.5M128.0 174.3h1.5M116.2 175.1h1.5M120.5 174.2h1.5M117.3 179.5h1.5M122.1 176.9h1.5M113.3 178.2h1.5M115.0 181.5h1.5M115.7 182.9h1.5M119.7 176.1h1.5M122.7 178.3h1.5M114.5 182.7h1.5M122.6 177.2h1.5M116.5 182.3h1.5M115.5 177.9h1.5M116.1 178.0h1.5M120.3 178.2h1.5M121.4 173.4h1.5M111.3 175.1h1.5M120.6 175.1h1.5M119.6 183.2h1.5M117.7 182.1h1.5M112.4 175.2h1.5M118.4 176.2h1.5M114.6 174.8h1.5M116.0 177.8h1.5M145.6 129.9h1.5M131.8 173.7h1.5M116.4 132.9h1.5M107.9 152.7h1.5M115.6 111.7h1.5M95.5 156.4h1.5M131.2 163.9h1.5M113.0 126.7h1.5M145.2 179.9h1.5M112.4 155.5h1.5M136.5 122.1h1.5M145.5 163.4h1.5M150.5 158.5h1.5M142.0 158.9h1.5M118.7 144.5h1.5M143.1 166.8h1.5M90.5 140.6h1.5M116.0 155.4h1.5M108.5 152.6h1.5M120.5 147.3h1.5M111.2 151.4h1.5M133.7 144.1h1.5M93.4 150.9h1.5M138.1 159.9h1.5M122.0 164.4h1.5M133.3 161.0h1.5M160.1 126.1h1.5M158.0 106.8h1.5M166.1 115.2h1.5M163.3 129.1h1.5M154.8 118.3h1.5M153.5 97.8h1.5M153.1 114.0h1.5M156.5 113.7h1.5M137.7 86.2h1.5M159.8 132.0h1.5M156.0 123.0h1.5M147.8 97.1h1.5M132.6 109.8h1.5M147.9 112.1h1.5M159.6 139.3h1.5M147.0 108.4h1.5M140.1 135.1h1.5M147.7 131.5h1.5M150.6 119.7h1.5M135.9 98.2h1.5M136.1 69.9h1.5M139.3 96.6h1.5M147.5 107.1h1.5M146.4 123.5h1.5M143.3 114.5h1.5M145.2 118.3h1.5M131.4 95.2h1.5M162.5 123.6h1.5M144.6 120.5h1.5M161.3 124.7h1.5M139.9 82.4h1.5M155.0 150.5h1.5M146.5 104.4h1.5M161.9 151.9h1.5M138.6 107.2h1.5M157.1 126.2h1.5M138.8 91.6h1.5M127.1 118.4h1.5M145.9 107.3h1.5M169.4 95.0h1.5M126.8 108.2h1.5M139.6 121.4h1.5M154.1 100.6h1.5M137.3 108.6h1.5M157.2 101.3h1.5M156.8 87.6h1.5M155.9 127.3h1.5M142.0 114.5h1.5M136.5 93.6h1.5M134.5 143.8h1.5M155.6 144.6h1.5M145.1 115.3h1.5M142.3 94.1h1.5M138.4 84.6h1.5M137.7 101.9h1.5M154.2 106.0h1.5M141.3 123.3h1.5M133.4 142.4h1.5M115.2 93.8h1.5M121.5 78.7h1.5M149.7 103.9h1.5M131.7 105.6h1.5M160.6 113.3h1.5M144.5 75.3h1.5M147.2 127.1h1.5M136.2 132.2h1.5M164.9 77.4h1.5M133.0 83.1h1.5M171.1 152.0h1.5M134.0 106.5h1.5M125.2 112.2h1.5M143.7 91.7h1.5M149.0 88.0h1.5M154.0 110.8h1.5M122.9 73.4h1.5M132.8 96.6h1.5M147.2 109.0h1.5M139.0 113.7h1.5M151.8 143.9h1.5M139.1 93.3h1.5M130.8 102.2h1.5M174.9 103.8h1.5M147.6 117.0h1.5M120.0 100.2h1.5M135.6 123.1h1.5M154.8 91.6h1.5M152.5 96.3h1.5M170.7 101.1h1.5M175.0 94.0h1.5M161.3 81.2h1.5M168.1 85.3h1.5M165.7 83.5h1.5M174.7 87.6h1.5M158.7 102.5h1.5M173.6 100.3h1.5M151.8 100.2h1.5M161.3 97.1h1.5M144.6 99.0h1.5M152.9 101.8h1.5M171.0 99.2h1.5M71.6 75.8h1.5M166.9 80.2h1.5M143.2 124.3h1.5M133.6 189.2h1.5M140.3 178.1h1.5M71.5 86.1h1.5M88.2 62.6h1.5M80.2 69.3h1.5M112.1 195.1h1.5M118.8 130.1h1.5M86.1 111.8h1.5M83.0 46.8h1.5M159.8 55.7h1.5M168.1 161.5h1.5M93.0 58.6h1.5M184.5 147.2h1.5M91.0 71.5h1.5M111.6 124.3h1.5M99.8 180.1h1.5M95.1 27.1h1.5M68.0 26.7h1.5M119.5 26.9h1.5M126.5 27.2h1.5" stroke="#000" stroke-width="1.5" stroke-opacity="0.3" fill="none"/><path d="M57.1 206.3h1.5M74.2 192.8h1.5M63.6 192.7h1.5M66.1 191.3h1.5M67.3 196.0h1.5M76.5 186.5h1.5M69.9 198.5h1.5M62.2 205.5h1.5M64.1 199.3h1.5M71.6 194.6h1.5M67.6 196.4h1.5M71.9 198.5h1.5M64.9 201.3h1.5M65.4 192.9h1.5M65.9 190.8h1.5M63.2 198.1h1.5M69.1 191.8h1.5M68.2 196.8h1.5M76.9 194.2h1.5M63.9 201.9h1.5M67.1 192.3h1.5M68.9 189.7h1.5M61.2 180.0h1.5M62.8 203.4h1.5M64.4 195.5h1.5M70.0 193.6h1.5M63.2 196.3h1.5M62.4 203.0h1.5M71.0 197.7h1.5M67.1 189.3h1.5M65.6 197.5h1.5M67.0 196.9h1.5M61.8 202.7h1.5M73.1 195.3h1.5M65.8 195.2h1.5M68.6 196.8h1.5M62.4 188.4h1.5M67.8 200.4h1.5M78.3 181.5h1.5M66.3 197.1h1.5M62.8 199.4h1.5M67.4 188.9h1.5M67.5 185.6h1.5M67.0 201.8h1.5M68.3 198.7h1.5M72.4 196.5h1.5M63.6 194.6h1.5M68.5 185.5h1.5M70.7 187.2h1.5M63.2 194.8h1.5M66.7 193.4h1.5M64.4 204.1h1.5M73.7 193.2h1.5M72.4 197.6h1.5M71.7 187.3h1.5M75.9 189.0h1.5M63.9 194.2h1.5M62.7 203.5h1.5M61.0 202.6h1.5M69.8 208.2h1.5M70.3 199.8h1.5M76.6 178.2h1.5M67.7 196.6h1.5M69.9 184.5h1.5M69.9 183.5h1.5M61.5 200.5h1.5M67.4 199.9h1.5M63.2 196.8h1.5M63.4 202.5h1.5M66.5 208.6h1.5M68.3 199.0h1.5M62.5 203.8h1.5M62.7 205.6h1.5M63.9 195.4h1.5M66.4 195.9h1.5M66.0 190.5h1.5M66.6 197.9h1.5M67.1 195.8h1.5M61.1 200.2h1.5M66.4 197.0h1.5M62.9 208.5h1.5M66.0 203.0h1.5M63.3 203.7h1.5M61.4 201.9h1.5M65.5 200.2h1.5M66.6 199.8h1.5M64.6 197.7h1.5M63.5 200.4h1.5M67.1 201.4h1.5M61.6 207.5h1.5M69.4 191.8h1.5M64.0 198.0h1.5M75.5 160.6h1.5M91.4 180.1h1.5M76.0 198.6h1.5M84.8 169.9h1.5M85.8 177.8h1.5M112.8 182.0h1.5M81.2 170.0h1.5M78.7 178.3h1.5M61.5 194.8h1.5M88.4 192.4h1.5M85.6 169.6h1.5M91.5 180.5h1.5M64.5 188.6h1.5M77.8 187.8h1.5M79.7 201.1h1.5M99.0 188.4h1.5M86.9 190.2h1.5M81.7 185.9h1.5M94.7 177.5h1.5M84.5 176.0h1.5M77.7 170.9h1.5M66.2 191.8h1.5M84.1 193.4h1.5M76.6 189.6h1.5M85.2 203.2h1.5M75.6 181.4h1.5M64.5 197.7h1.5M78.3 177.4h1.5M89.0 186.9h1.5M88.2 177.9h1.5M87.1 173.8h1.5M94.4 152.8h1.5M73.0 188.1h1.5M89.4 180.2h1.5M111.6 183.4h1.5M93.9 169.6h1.5M99.4 192.6h1.5M89.4 195.4h1.5M90.1 184.3h1.5M90.0 164.7h1.5M102.5 174.9h1.5M68.5 199.1h1.5M68.4 200.8h1.5M74.0 174.2h1.5M82.1 169.0h1.5M88.4 182.3h1.5M98.0 194.8h1.5M69.8 166.7h1.5M86.4 175.8h1.5M86.0 187.4h1.5M101.5 189.5h1.5M83.5 189.3h1.5M87.9 184.7h1.5M87.4 193.0h1.5M78.1 190.7h1.5M93.6 162.4h1.5M78.2 164.1h1.5M76.9 186.7h1.5M74.3 201.8h1.5M100.4 163.9h1.5M98.3 173.7h1.5M84.9 180.2h1.5M89.0 163.8h1.5M78.0 170.3h1.5M102.6 163.2h1.5M70.6 175.6h1.5M80.0 169.0h1.5M103.5 173.7h1.5M127.2 173.7h1.5M62.6 189.7h1.5M80.2 191.1h1.5M99.9 187.7h1.5M65.2 188.9h1.5M85.5 181.7h1.5M86.2 185.6h1.5M97.6 172.2h1.5M74.5 184.4h1.5M73.3 194.6h1.5M111.3 176.3h1.5M87.9 176.5h1.5M96.7 163.1h1.5M106.3 170.6h1.5M81.1 190.9h1.5M87.9 185.2h1.5M85.2 190.7h1.5M84.4 117.2h1.5M69.2 143.7h1.5M67.6 150.3h1.5M104.3 162.0h1.5M95.6 130.0h1.5M80.3 103.6h1.5M82.4 126.3h1.5M77.9 153.1h1.5M106.1 110.2h1.5M91.6 178.7h1.5M108.9 129.8h1.5M72.8 133.7h1.5M74.1 128.2h1.5M64.6 154.0h1.5M95.9 143.3h1.5M99.3 164.4h1.5M78.4 97.6h1.5M95.1 147.1h1.5M81.3 122.1h1.5M84.8 151.8h1.5M87.6 132.6h1.5M95.1 126.0h1.5M102.7 167.4h1.5M72.7 140.4h1.5M99.6 117.3h1.5M85.2 134.8h1.5M78.8 128.7h1.5M79.7 160.8h1.5M79.5 139.2h1.5M110.6 129.5h1.5M94.7 102.5h1.5M88.3 145.2h1.5M88.3 96.9h1.5M81.1 140.3h1.5M115.4 135.5h1.5M94.3 145.4h1.5M67.1 105.0h1.5M95.2 142.2h1.5M97.7 158.7h1.5M85.3 106.3h1.5M68.2 174.6h1.5M88.6 185.8h1.5M76.4 121.6h1.5M81.5 132.9h1.5M96.6 152.6h1.5M125.9 166.9h1.5M119.3 178.5h1.5M115.9 168.7h1.5M111.9 176.1h1.5M129.0 175.1h1.5M114.9 189.2h1.5M124.1 170.9h1.5M111.9 180.6h1.5M104.0 189.8h1.5M111.3 193.4h1.5M112.2 180.7h1.5M117.5 185.4h1.5M110.4 186.1h1.5M128.9 175.1h1.5M126.1 165.9h1.5M110.1 178.2h1.5M110.8 187.4h1.5M113.3 188.1h1.5M117.3 177.8h1.5M102.1 185.5h1.5M119.6 167.1h1.5M106.9 182.5h1.5M123.4 174.6h1.5M120.2 175.6h1.5M122.4 170.1h1.5M123.4 184.8h1.5M120.8 181.2h1.5M115.1 168.5h1.5M108.9 180.0h1.5M131.3 163.7h1.5M126.6 168.2h1.5M118.6 175.8h1.5M123.8 182.8h1.5M121.7 184.4h1.5M117.5 177.0h1.5M102.8 187.6h1.5M114.4 189.6h1.5M143.0 171.1h1.5M121.2 181.7h1.5M127.7 176.5h1.5M123.0 164.3h1.5M116.1 179.9h1.5M107.9 185.3h1.5M116.4 168.5h1.5M113.0 179.1h1.5M116.4 169.4h1.5M123.2 181.4h1.5M129.5 176.8h1.5M123.6 176.2h1.5M132.8 170.4h1.5M121.3 168.2h1.5M122.9 174.3h1.5M122.2 185.0h1.5M113.3 189.6h1.5M144.3 164.4h1.5M127.4 173.9h1.5M121.0 179.3h1.5M121.8 164.1h1.5M122.6 181.4h1.5M121.8 173.9h1.5M110.0 185.6h1.5M117.2 178.3h1.5M127.2 162.3h1.5M121.5 176.8h1.5M120.4 175.9h1.5M128.8 180.6h1.5M112.3 171.5h1.5M117.3 179.0h1.5M123.0 177.8h1.5M96.3 182.2h1.5M121.9 173.7h1.5M120.7 176.9h1.5M127.9 169.7h1.5M124.1 170.5h1.5M121.0 173.1h1.5M122.5 168.8h1.5M113.0 173.3h1.5M121.2 175.6h1.5M132.2 174.6h1.5M105.6 191.5h1.5M93.3 192.8h1.5M106.6 182.0h1.5M130.9 152.7h1.5M115.0 184.0h1.5M129.6 176.7h1.5M131.3 171.7h1.5M117.9 183.3h1.5M115.8 164.8h1.5M127.5 177.5h1.5M132.6 161.5h1.5M118.2 174.4h1.5M116.5 188.4h1.5M126.1 172.6h1.5M130.3 178.3h1.5M104.2 182.4h1.5M129.2 173.7h1.5M109.2 182.4h1.5M113.3 176.4h1.5M133.7 178.3h1.5M119.6 175.4h1.5M123.5 174.9h1.5M114.5 181.7h1.5M117.4 166.2h1.5M125.9 167.9h1.5M123.3 173.0h1.5M105.4 185.3h1.5M129.6 174.6h1.5M114.1 185.5h1.5M135.0 179.8h1.5M114.6 169.6h1.5M113.7 169.3h1.5M106.2 188.4h1.5M110.3 180.9h1.5M113.0 175.0h1.5M114.5 176.3h1.5M117.2 169.5h1.5M118.5 177.5h1.5M137.4 176.9h1.5M121.8 173.0h1.5M110.2 181.6h1.5M136.2 171.4h1.5M127.1 178.3h1.5M103.0 188.2h1.5M117.1 184.2h1.5M119.2 189.7h1.5M107.9 193.8h1.5M129.2 171.2h1.5M108.2 180.9h1.5M125.5 169.9h1.5M120.9 172.7h1.5M120.0 169.5h1.5M111.6 178.7h1.5M115.6 180.7h1.5M116.0 184.8h1.5M118.5 173.7h1.5M120.5 178.4h1.5M121.1 177.1h1.5M122.5 167.7h1.5M126.6 173.0h1.5M125.9 176.3h1.5M117.4 175.2h1.5M133.3 169.0h1.5M129.0 162.3h1.5M110.5 165.7h1.5M100.7 180.8h1.5M114.7 189.2h1.5M124.1 182.8h1.5M110.7 197.1h1.5M123.1 182.0h1.5M117.4 171.4h1.5M116.2 180.7h1.5M119.6 186.8h1.5M117.2 179.9h1.5M123.5 176.6h1.5M119.8 183.9h1.5M122.9 178.8h1.5M120.4 181.3h1.5M126.1 175.1h1.5M116.5 178.4h1.5M123.0 179.2h1.5M122.4 174.7h1.5M122.0 179.8h1.5M118.5 174.2h1.5M116.9 172.6h1.5M123.9 176.6h1.5M120.3 171.1h1.5M118.5 180.4h1.5M123.6 175.7h1.5M118.0 170.0h1.5M120.1 177.8h1.5M119.9 180.3h1.5M116.1 183.5h1.5M118.7 177.1h1.5M116.9 181.6h1.5M117.1 180.4h1.5M121.1 176.6h1.5M119.2 175.5h1.5M116.9 178.4h1.5M118.9 174.8h1.5M116.7 177.1h1.5M116.5 183.2h1.5M115.5 176.9h1.5M115.3 183.1h1.5M110.9 181.0h1.5M116.7 180.5h1.5M116.2 183.5h1.5M118.5 188.1h1.5M118.0 178.1h1.5M113.0 183.1h1.5M106.3 183.8h1.5M107.8 182.6h1.5M120.8 175.5h1.5M122.2 191.0h1.5M119.3 177.1h1.5M114.3 179.3h1.5M111.5 135.3h1.5M131.0 153.4h1.5M118.1 118.4h1.5M121.7 147.4h1.5M133.2 143.1h1.5M125.5 169.7h1.5M145.8 170.3h1.5M129.6 132.0h1.5M92.6 136.4h1.5M138.5 148.6h1.5M106.6 134.6h1.5M147.3 168.6h1.5M109.8 161.2h1.5M120.6 176.0h1.5M117.5 136.5h1.5M112.8 134.7h1.5M113.1 169.2h1.5M143.3 148.3h1.5M112.2 146.3h1.5M146.8 156.4h1.5M95.8 149.0h1.5M128.2 131.8h1.5M135.8 125.3h1.5M111.1 150.0h1.5M121.3 172.6h1.5M105.3 165.6h1.5M159.1 106.7h1.5M157.2 115.5h1.5M147.8 135.8h1.5M153.1 136.5h1.5M131.9 84.1h1.5M141.8 111.0h1.5M158.0 120.3h1.5M115.5 94.1h1.5M147.8 121.2h1.5M133.3 135.3h1.5M138.2 109.3h1.5M140.5 95.3h1.5M125.4 100.0h1.5M139.6 130.8h1.5M126.7 104.6h1.5M154.0 119.1h1.5M148.0 116.0h1.5M167.0 132.2h1.5M141.9 105.4h1.5M140.4 98.8h1.5M168.9 97.6h1.5M136.9 108.1h1.5M150.0 80.4h1.5M128.6 89.4h1.5M136.7 131.9h1.5M147.6 112.7h1.5M174.8 84.0h1.5M131.8 89.9h1.5M139.6 102.3h1.5M120.2 95.1h1.5M133.8 124.6h1.5M119.9 100.2h1.5M127.2 90.2h1.5M156.8 105.2h1.5M133.5 118.9h1.5M139.7 112.8h1.5M135.8 102.8h1.5M131.8 125.8h1.5M160.5 125.3h1.5M141.7 112.1h1.5M142.4 109.3h1.5M144.4 92.3h1.5M140.1 106.3h1.5M121.4 128.8h1.5M128.4 111.3h1.5M152.3 110.9h1.5M131.1 95.3h1.5M131.9 96.9h1.5M136.7 141.6h1.5M127.8 99.2h1.5M156.9 125.3h1.5M158.3 96.8h1.5M123.0 103.0h1.5M154.2 119.9h1.5M153.1 138.5h1.5M142.5 137.4h1.5M133.8 106.6h1.5M138.9 100.7h1.5M145.2 123.7h1.5M146.4 90.1h1.5M123.6 120.9h1.5M146.8 122.9h1.5M168.6 107.6h1.5M123.9 129.2h1.5M144.7 129.7h1.5M150.7 136.5h1.5M163.6 116.7h1.5M153.2 109.0h1.5M172.4 100.8h1.5M132.8 91.1h1.5M129.2 99.0h1.5M128.2 101.3h1.5M125.1 108.1h1.5M140.6 109.4h1.5M146.0 88.9h1.5M135.8 104.6h1.5M172.3 120.1h1.5M172.0 127.7h1.5M167.2 120.3h1.5M129.1 88.1h1.5M131.8 127.4h1.5M146.2 125.4h1.5M134.1 108.7h1.5M148.7 114.8h1.5M145.3 141.3h1.5M157.2 102.3h1.5M163.1 87.7h1.5M172.6 104.1h1.5M144.6 103.6h1.5M164.9 94.2h1.5M172.4 89.4h1.5M157.5 111.2h1.5M161.5 83.8h1.5M159.3 102.3h1.5M166.9 96.6h1.5M164.4 98.8h1.5M146.0 89.5h1.5M157.2 104.8h1.5M165.0 93.9h1.5M171.9 94.4h1.5M73.0 165.5h1.5M119.0 54.3h1.5M59.1 131.8h1.5M75.4 175.5h1.5M66.8 108.5h1.5M116.8 91.4h1.5M86.8 127.0h1.5M167.9 73.5h1.5M112.6 74.5h1.5M59.7 31.6h1.5M66.3 108.5h1.5M77.1 141.3h1.5M141.9 42.3h1.5M97.1 81.9h1.5M112.3 40.0h1.5M148.6 167.9h1.5M70.5 42.4h1.5M71.5 87.1h1.5M57.9 142.2h1.5M120.2 171.9h1.5M86.4 27.0h1.5M95.7 27.4h1.5M94.9 26.5h1.5M111.2 27.1h1.5" stroke="#000" stroke-width="1.5" stroke-opacity="0.3" fill="none"/>
<polygon points="92.7,186.5 114.8,70.4 125.8,53.8 169.4,39.3 208.2,42.6 213.5,83.6 171.1,165.7 100.5,206.7" fill="none" stroke="#000" stroke-width="1.3"/>
<path d="M62.5 217.9v-1.7M55.6 210.5h1.7M69.9 217.9v-1.7M55.6 203.1h1.7M77.4 217.9v-1.7M55.6 195.7h1.7M84.8 217.9v-1.7M55.6 188.2h1.7M92.3 217.9v-3.2M55.6 180.8h3.2M99.8 217.9v-1.7M55.6 173.4h1.7M107.2 217.9v-1.7M55.6 166h1.7M114.7 217.9v-1.7M55.6 158.6h1.7M122.1 217.9v-1.7M55.6 151.2h1.7M129.6 217.9v-3.2M55.6 143.7h3.2M137.1 217.9v-1.7M55.6 136.3h1.7M144.5 217.9v-1.7M55.6 128.9h1.7M152 217.9v-1.7M55.6 121.5h1.7M159.4 217.9v-1.7M55.6 114.1h1.7M166.9 217.9v-3.2M55.6 106.7h3.2M174.4 217.9v-1.7M55.6 99.2h1.7M181.8 217.9v-1.7M55.6 91.8h1.7M189.3 217.9v-1.7M55.6 84.4h1.7M196.7 217.9v-1.7M55.6 77h1.7M204.2 217.9v-3.2M55.6 69.6h3.2M211.7 217.9v-1.7M55.6 62.2h1.7M219.1 217.9v-1.7M55.6 54.7h1.7M226.6 217.9v-1.7M55.6 47.3h1.7M234 217.9v-1.7M55.6 39.9h1.7M241.5 217.9v-3.2M55.6 32.5h3.2" stroke="#000" stroke-width="1.1" fill="none"/>
<rect x="55.6" y="25" width="192.6" height="192.9" fill="none" stroke="#000" stroke-width="1.4"/>
<text class="t" x="55" y="235.6" text-anchor="middle">0</text>
<text class="t" x="49.4" y="222.5" text-anchor="end">0</text>
<text class="t" x="92.3" y="235.6" text-anchor="middle">200</text>
<text class="t" x="49.4" y="185.4" text-anchor="end">200</text>
<text class="t" x="129.6" y="235.6" text-anchor="middle">400</text>
<text class="t" x="49.4" y="148.3" text-anchor="end">400</text>
<text class="t" x="166.9" y="235.6" text-anchor="middle">600</text>
<text class="t" x="49.4" y="111.3" text-anchor="end">600</text>
<text class="t" x="204.2" y="235.6" text-anchor="middle">800</text>
<text class="t" x="49.4" y="74.2" text-anchor="end">800</text>
<text class="t" x="241.5" y="235.6" text-anchor="middle">1000</text>
<text class="t" x="49.4" y="37.1" text-anchor="end">1000</text>
<text class="lab" x="150.9" y="258.5" text-anchor="middle">FSC-H: FSC-Height</text>
<text class="lab" transform="translate(13.2 120.3) rotate(-90)" text-anchor="middle">SSC-H: SSC-Height</text>
<polyline points="325,212 325.3,160 325.5,140 326.5,143 327.8,145 329,142 330.5,136.6 331.5,125 332.5,111.5 334,110 335.2,108.9 336.6,82.6 337.4,70.4 338.3,77.3 339.5,68.6 340.9,62.5 343.5,52.9 345.3,36.3 346.5,45.9 347.9,51.2 350.5,52.9 352.3,58.1 354,70.4 355.8,77.3 357,75.6 358.4,66 359.8,73.8 361,94.8 362.7,112.2 364.5,125.1 366.2,146.2 368.8,165.4 370.6,177.6 372.4,193.3 375,205.5 377.6,210.7 380,212.4 384,215.6 390,216.8 400,217.2" fill="none" stroke="#6e6e6e" stroke-width="1.3"/>
<polyline points="326.1,210.7 330.5,209 335.7,205.5 339.2,203.7 342.7,202 347.9,197.6 354.9,188 358.4,184.5 361,179.3 362.7,181.9 364.5,177.6 366.2,175.8 368.8,165.4 370,165.3 372.6,154.9 374.4,149.7 376.6,153.1 377.8,147.9 379.6,139.2 381.3,145.3 382.6,144.4 384.8,139.2 386.6,138.3 388.3,140.9 390.9,149.7 392.7,137.4 393.5,127 395.3,130.5 396.2,134.8 397.9,133.1 399.7,127 401,120 402.3,115.7 404.9,94.8 407.5,77.3 409.2,59.9 411,36.3 412.7,56.4 415.4,75.6 417.1,94.8 418.5,120 420.6,165 422.3,184 423.8,191 425.5,198 427.7,203 430.6,206.5 433.5,203.5 435.4,204.6 438.3,204 441.2,209.8 444,214.6 447.9,216.5 460,216.8 480,216.6 490,215.5 493,214.5 497,215.5 503,214.5 508,216 516,216.5" fill="none" stroke="#6e6e6e" stroke-width="1.3"/>
<polyline points="326.1,209.8 328.7,211.6 332.2,209 337.4,203.7 342.7,189.8 344.4,172.3 346.2,168.8 350.5,161.9 352.3,142.7 354,130.5 357.5,120 359.2,114 361.9,91.3 363.6,89.5 365.4,77.3 369.7,35.5 371.9,59.9 373.5,82.6 375.2,101.7 377,120 380.5,137.4 383.1,147.9 385.7,172.3 388.3,195 391,215 392,217.5" fill="none" stroke="#000" stroke-width="1.3" stroke-dasharray="3 2"/>
<path d="M339.2 217.9v-1.6M347.6 217.9v-1.6M353.6 217.9v-1.6M358.3 217.9v-1.6M362.1 217.9v-1.6M365.3 217.9v-1.6M368.1 217.9v-1.6M370.6 217.9v-1.6M372.8 217.9v-2.5M387.2 217.9v-1.6M395.7 217.9v-1.6M401.7 217.9v-1.6M406.4 217.9v-1.6M410.2 217.9v-1.6M413.4 217.9v-1.6M416.2 217.9v-1.6M418.7 217.9v-1.6M420.9 217.9v-2.5M435.3 217.9v-1.6M443.8 217.9v-1.6M449.8 217.9v-1.6M454.5 217.9v-1.6M458.3 217.9v-1.6M461.5 217.9v-1.6M464.3 217.9v-1.6M466.7 217.9v-1.6M468.9 217.9v-2.5M483.4 217.9v-1.6M491.9 217.9v-1.6M497.9 217.9v-1.6M502.5 217.9v-1.6M506.3 217.9v-1.6M509.6 217.9v-1.6M512.3 217.9v-1.6M514.8 217.9v-1.6M324.7 210.5h1.6M324.7 203.1h1.6M324.7 195.7h1.6M324.7 188.3h1.6M324.7 180.8h2.5M324.7 173.4h1.6M324.7 166h1.6M324.7 158.6h1.6M324.7 151.2h1.6M324.7 143.8h2.5M324.7 136.4h1.6M324.7 129h1.6M324.7 121.5h1.6M324.7 114.1h1.6M324.7 106.7h2.5M324.7 99.3h1.6M324.7 91.9h1.6M324.7 84.5h1.6M324.7 77.1h1.6M324.7 69.7h2.5M324.7 62.2h1.6M324.7 54.8h1.6M324.7 47.4h1.6M324.7 40h1.6M324.7 32.6h2.5" stroke="#000" stroke-width="1.1" fill="none"/>
<rect x="324.7" y="25.2" width="192.3" height="192.7" fill="none" stroke="#000" stroke-width="1.4"/>
<text class="t" x="318" y="222.5" text-anchor="end">0</text>
<text class="t" x="318" y="185.4" text-anchor="end">20</text>
<text class="t" x="318" y="148.4" text-anchor="end">40</text>
<text class="t" x="318" y="111.3" text-anchor="end">60</text>
<text class="t" x="318" y="74.3" text-anchor="end">80</text>
<text class="t" x="318" y="37.2" text-anchor="end">100</text>
<text class="t" x="314.5" y="235.6">10<tspan dx="0.6" dy="-3.8" font-size="8.8px">0</tspan></text>
<text class="t" x="362.6" y="235.6">10<tspan dx="0.6" dy="-3.8" font-size="8.8px">1</tspan></text>
<text class="t" x="410.7" y="235.6">10<tspan dx="0.6" dy="-3.8" font-size="8.8px">2</tspan></text>
<text class="t" x="458.7" y="235.6">10<tspan dx="0.6" dy="-3.8" font-size="8.8px">3</tspan></text>
<text class="t" x="506.8" y="235.6">10<tspan dx="0.6" dy="-3.8" font-size="8.8px">4</tspan></text>
<text class="lab" x="418.8" y="258.5" text-anchor="middle">FL2-H: Matriptase PE</text>
<text class="lab" transform="translate(287.8 120.8) rotate(-90)" text-anchor="middle">% of Max</text>
<polyline points="57,489 60,485 64,476 67,468 69.5,472 72.5,470 73.5,462 75,455 76.5,452 78.8,450.3 80,450 82.4,448 83.5,440 85.2,429.3 87.9,427.4 90.7,407.3 91.6,402.7 93.4,411 95.2,412.8 97.1,400 97.6,390.3 99.9,359 102,352 104.7,374.7 107.3,329.4 109.1,343.3 111,331 112.5,325.9 113.4,320.7 114.5,330 116,349 117.5,335 118.6,322.4 119.5,317.2 120.5,330 122.1,366 123.5,350 125,335 126.5,330 127.3,345 128.2,374.7 129,392.1 130.7,404.3 132.5,414.6 135.2,436.6 138,454.9 140.7,469.5 143.5,482.3 146.2,489.6 149.9,493.3 155.4,496 160,498 170,500 225,499.5 232,496 238,498 244,497 248,499" fill="none" stroke="#000" stroke-width="1.4" stroke-dasharray="1.4 1"/>
<polyline points="57.6,487.5 62,478 65.5,472 67.4,470.5 69.4,469.9 71,468 74,461.4 75.3,452.2 77.2,443.1 79.2,432.6 80.6,425 82.4,414.6 85.3,402 86.5,380 88.1,353.8 89,322 89.7,316.5 91,322 92,327 93,320 93.8,316.5 95.1,320.7 96.9,331.2 98.5,348.5 99.9,366 101.1,385.1 101.6,400 103.2,427.4 105.1,454.9 106.9,473.2 109.6,487.8 112.4,494.2 115.1,497 118.8,498.8 125,499.8 180,500 222,499.5 226.6,496 229.2,492.5 231.8,493.4 235.3,496.8 237.9,498.6 240.5,494.2 243.1,486.4 244.8,484.7 246.5,487.3 248,490" fill="none" stroke="#000" stroke-width="1.3" stroke-dasharray="3 2"/>
<polyline points="57,500 70,500 72.4,499.7 77.9,495.1 82.4,498.8 88,499 93.4,493.3 98,490.5 101.6,491 104.1,484.1 106,473.2 107.8,463.1 109.6,464 111.5,470 113.3,474.1 115.1,460.4 117,449.4 119.7,427.4 122.4,400 123.7,386.8 126.3,357.2 127.4,354 129,345 130.7,335 131.9,322.4 133.3,316.3 135.2,329 136.2,346.8 136.8,365 137.7,383.4 138.9,400 139.8,427.4 141.6,449.4 143.5,469.5 146.2,482.3 149.9,491.5 153.5,492.4 156,488 158.3,486 160,487.3 163.5,496 167,498.6 175,500" fill="none" stroke="#000" stroke-width="1.2" stroke-dasharray="6 3"/>
<polyline points="57,500.3 127.9,499.5 131.6,486 134.3,469.5 137.1,449.4 138.9,427.4 140.7,400 142,374.7 143.8,339.8 144.6,322.4 146,320.7 147.8,315.4 149,325.9 150.7,357.2 152.5,383.4 153.5,400 155.4,427.4 157.2,451.2 159,469.5 160,472 161.8,482.3 163.5,491.5 166.9,495.1 169.5,496.8 172.1,499.4 175,500.3" fill="none" stroke="#000" stroke-width="1.2"/>
<path d="M70.3 500.6v-1.6M78.8 500.6v-1.6M84.8 500.6v-1.6M89.5 500.6v-1.6M93.3 500.6v-1.6M96.5 500.6v-1.6M99.3 500.6v-1.6M101.8 500.6v-1.6M104 500.6v-2.5M118.5 500.6v-1.6M127 500.6v-1.6M133 500.6v-1.6M137.6 500.6v-1.6M141.5 500.6v-1.6M144.7 500.6v-1.6M147.5 500.6v-1.6M149.9 500.6v-1.6M152.1 500.6v-2.5M166.7 500.6v-1.6M175.1 500.6v-1.6M181.2 500.6v-1.6M185.8 500.6v-1.6M189.6 500.6v-1.6M192.9 500.6v-1.6M195.7 500.6v-1.6M198.1 500.6v-1.6M200.3 500.6v-2.5M214.8 500.6v-1.6M223.3 500.6v-1.6M229.3 500.6v-1.6M234 500.6v-1.6M237.8 500.6v-1.6M241 500.6v-1.6M243.8 500.6v-1.6M246.3 500.6v-1.6M55.8 493.2h1.6M55.8 485.8h1.6M55.8 478.4h1.6M55.8 471h1.6M55.8 463.6h2.5M55.8 456.2h1.6M55.8 448.8h1.6M55.8 441.4h1.6M55.8 434h1.6M55.8 426.6h2.5M55.8 419.2h1.6M55.8 411.8h1.6M55.8 404.5h1.6M55.8 397.1h1.6M55.8 389.7h2.5M55.8 382.3h1.6M55.8 374.9h1.6M55.8 367.5h1.6M55.8 360.1h1.6M55.8 352.7h2.5M55.8 345.3h1.6M55.8 337.9h1.6M55.8 330.5h1.6M55.8 323.1h1.6M55.8 315.7h2.5" stroke="#000" stroke-width="1.1" fill="none"/>
<rect x="55.8" y="308" width="192.7" height="192.6" fill="none" stroke="#000" stroke-width="1.6"/>
<text class="t" x="49.4" y="505.2" text-anchor="end">0</text>
<text class="t" x="49.4" y="468.2" text-anchor="end">20</text>
<text class="t" x="49.4" y="431.2" text-anchor="end">40</text>
<text class="t" x="49.4" y="394.3" text-anchor="end">60</text>
<text class="t" x="49.4" y="357.3" text-anchor="end">80</text>
<text class="t" x="49.4" y="320.3" text-anchor="end">100</text>
<text class="t" x="45.6" y="518.8">10<tspan dx="0.6" dy="-3.8" font-size="8.8px">0</tspan></text>
<text class="t" x="93.8" y="518.8">10<tspan dx="0.6" dy="-3.8" font-size="8.8px">1</tspan></text>
<text class="t" x="141.9" y="518.8">10<tspan dx="0.6" dy="-3.8" font-size="8.8px">2</tspan></text>
<text class="t" x="190.1" y="518.8">10<tspan dx="0.6" dy="-3.8" font-size="8.8px">3</tspan></text>
<text class="t" x="238.3" y="518.8">10<tspan dx="0.6" dy="-3.8" font-size="8.8px">4</tspan></text>
<text class="lab" x="150.8" y="541.7" text-anchor="middle">FL2-H: Matriptase PE</text>
<text class="lab" transform="translate(19.2 404) rotate(-90)" text-anchor="middle">% of Max</text>
<defs>
<pattern id="hatch" patternUnits="userSpaceOnUse" width="5.3" height="5.3" patternTransform="translate(437.5 433.2) rotate(45)"><rect width="5.3" height="5.3" fill="#c4c4c4"/><line x1="0" y1="0" x2="0" y2="5.3" stroke="#000" stroke-width="1.7"/><line x1="5.3" y1="0" x2="5.3" y2="5.3" stroke="#000" stroke-width="1.7"/></pattern>
<pattern id="cross" patternUnits="userSpaceOnUse" width="5.5" height="5.5" patternTransform="translate(455.8 472.8) rotate(45)"><rect width="5.5" height="5.5" fill="#cfcfcf"/><path d="M0 0V5.5M5.5 0V5.5M0 0H5.5M0 5.5H5.5" stroke="#000" stroke-width="1.4"/></pattern>
</defs>
<line x1="341.8" y1="406.7" x2="341.8" y2="359.9" stroke="#000" stroke-width="1.1"/>
<line x1="338.8" y1="359.9" x2="344.8" y2="359.9" stroke="#000" stroke-width="1.1"/>
<rect x="336.7" y="406.7" width="10.2" height="93.5" fill="#c4c4c4" stroke="#000" stroke-width="1.1"/>
<line x1="385.6" y1="406.4" x2="385.6" y2="371" stroke="#000" stroke-width="1.1"/>
<line x1="382.6" y1="371" x2="388.6" y2="371" stroke="#000" stroke-width="1.1"/>
<rect x="380.5" y="406.4" width="10.2" height="93.8" fill="#c4c4c4" stroke="#000" stroke-width="1.1"/>
<line x1="398.7" y1="494.5" x2="398.7" y2="492.2" stroke="#000" stroke-width="1.1"/>
<line x1="395.7" y1="492.2" x2="401.7" y2="492.2" stroke="#000" stroke-width="1.1"/>
<rect x="393.6" y="494.5" width="10.2" height="5.7" fill="url(#hatch)" stroke="#000" stroke-width="1.1"/>
<line x1="411.8" y1="494.5" x2="411.8" y2="492.2" stroke="#000" stroke-width="1.1"/>
<line x1="408.8" y1="492.2" x2="414.8" y2="492.2" stroke="#000" stroke-width="1.1"/>
<rect x="406.7" y="494.5" width="10.2" height="5.7" fill="url(#cross)" stroke="#000" stroke-width="1.1"/>
<line x1="429.3" y1="373.2" x2="429.3" y2="317.9" stroke="#000" stroke-width="1.1"/>
<line x1="426.3" y1="317.9" x2="432.3" y2="317.9" stroke="#000" stroke-width="1.1"/>
<rect x="424.2" y="373.2" width="10.2" height="127" fill="#c4c4c4" stroke="#000" stroke-width="1.1"/>
<line x1="442.4" y1="426.6" x2="442.4" y2="382.2" stroke="#000" stroke-width="1.1"/>
<line x1="439.4" y1="382.2" x2="445.4" y2="382.2" stroke="#000" stroke-width="1.1"/>
<rect x="437.3" y="426.6" width="10.2" height="73.6" fill="url(#hatch)" stroke="#000" stroke-width="1.1"/>
<line x1="455.5" y1="465.1" x2="455.5" y2="452.8" stroke="#000" stroke-width="1.1"/>
<line x1="452.5" y1="452.8" x2="458.5" y2="452.8" stroke="#000" stroke-width="1.1"/>
<rect x="450.4" y="465.1" width="10.2" height="35.1" fill="url(#cross)" stroke="#000" stroke-width="1.1"/>
<line x1="473.1" y1="491" x2="473.1" y2="486.3" stroke="#000" stroke-width="1.1"/>
<line x1="470.1" y1="486.3" x2="476.1" y2="486.3" stroke="#000" stroke-width="1.1"/>
<rect x="468" y="491" width="10.2" height="9.2" fill="#c4c4c4" stroke="#000" stroke-width="1.1"/>
<line x1="486.2" y1="492.1" x2="486.2" y2="487.9" stroke="#000" stroke-width="1.1"/>
<line x1="483.2" y1="487.9" x2="489.2" y2="487.9" stroke="#000" stroke-width="1.1"/>
<rect x="481.1" y="492.1" width="10.2" height="8.1" fill="url(#hatch)" stroke="#000" stroke-width="1.1"/>
<line x1="499.3" y1="494.8" x2="499.3" y2="491.6" stroke="#000" stroke-width="1.1"/>
<line x1="496.3" y1="491.6" x2="502.3" y2="491.6" stroke="#000" stroke-width="1.1"/>
<rect x="494.2" y="494.8" width="10.2" height="5.4" fill="url(#cross)" stroke="#000" stroke-width="1.1"/>
<path d="M324.5 479.6h2M324.5 459h2M324.5 438.4h2M324.5 417.8h2M324.5 397.2h2M324.5 376.7h2M324.5 356.1h2M324.5 335.5h2M324.5 314.9h2M354.9 500.2v3M398.7 500.2v3M442.4 500.2v3M486.2 500.2v3" stroke="#000" stroke-width="1.1" fill="none"/>
<rect x="324.5" y="307.5" width="192.8" height="192.7" fill="none" stroke="#000" stroke-width="1.4"/>
<text class="t" x="318" y="504.8" text-anchor="end">0</text>
<text class="t" x="318" y="484.2" text-anchor="end">50</text>
<text class="t" x="318" y="463.6" text-anchor="end">100</text>
<text class="t" x="318" y="443" text-anchor="end">150</text>
<text class="t" x="318" y="422.4" text-anchor="end">200</text>
<text class="t" x="318" y="401.9" text-anchor="end">250</text>
<text class="t" x="318" y="381.3" text-anchor="end">300</text>
<text class="t" x="318" y="360.7" text-anchor="end">350</text>
<text class="t" x="318" y="340.1" text-anchor="end">400</text>
<text class="t" x="318" y="319.5" text-anchor="end">450</text>
<text class="lab" transform="translate(287.6 401.4) rotate(-90)" text-anchor="middle">Relative matriptase RNA</text>
<text class="t2" font-size="16.6px" transform="translate(359.9 517) rotate(-45)" text-anchor="end">PBMC</text>
<text class="t2" font-size="16.6px" transform="translate(403.7 517) rotate(-45)" text-anchor="end">Monocytes</text>
<text class="t2" font-size="16.6px" transform="translate(447.4 517) rotate(-45)" text-anchor="end">B-cells</text>
<text class="t2" font-size="16.6px" transform="translate(491.2 517) rotate(-45)" text-anchor="end">T-cells</text>
</svg></body></html>
